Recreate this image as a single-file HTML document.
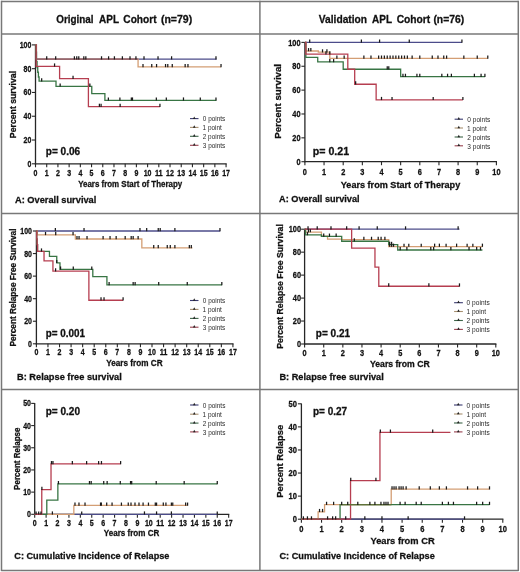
<!DOCTYPE html><html><head><meta charset="utf-8"><style>html,body{margin:0;padding:0;background:#fff;}svg{display:block;filter:blur(0.3px);font-family:"Liberation Sans",sans-serif;}</style></head><body>
<svg width="520" height="572" viewBox="0 0 520 572">
<rect width="520" height="572" fill="#fff"/>
<line x1="1.2" y1="1.5" x2="518.6" y2="1.5" stroke="#787878" stroke-width="1.5"/>
<line x1="1.2" y1="570.4" x2="518.6" y2="570.4" stroke="#787878" stroke-width="1.5"/>
<line x1="1.5" y1="0.8" x2="1.5" y2="571.1" stroke="#787878" stroke-width="1.5"/>
<line x1="518.3" y1="0.8" x2="518.3" y2="571.1" stroke="#787878" stroke-width="1.5"/>
<line x1="259.9" y1="0.8" x2="259.9" y2="571.1" stroke="#787878" stroke-width="1.5"/>
<line x1="1.2" y1="34" x2="518.6" y2="34" stroke="#787878" stroke-width="1.5"/>
<line x1="1.2" y1="213.6" x2="518.6" y2="213.6" stroke="#787878" stroke-width="1.5"/>
<line x1="1.2" y1="389.6" x2="518.6" y2="389.6" stroke="#787878" stroke-width="1.5"/>
<text x="56.24" y="22.93" font-size="10.8" font-weight="bold" fill="#111" textLength="37.34" lengthAdjust="spacingAndGlyphs" stroke="#111" stroke-width="0.28">Original</text>
<text x="99.09" y="22.93" font-size="10.8" font-weight="bold" fill="#111" textLength="19.97" lengthAdjust="spacingAndGlyphs" stroke="#111" stroke-width="0.28">APL</text>
<text x="123.33" y="22.93" font-size="10.8" font-weight="bold" fill="#111" textLength="33.25" lengthAdjust="spacingAndGlyphs" stroke="#111" stroke-width="0.28">Cohort</text>
<text x="160.91" y="22.93" font-size="10.8" font-weight="bold" fill="#111" textLength="31.25" lengthAdjust="spacingAndGlyphs" stroke="#111" stroke-width="0.28">(n=79)</text>
<text x="318.84" y="22.93" font-size="10.8" font-weight="bold" fill="#111" textLength="48.17" lengthAdjust="spacingAndGlyphs" stroke="#111" stroke-width="0.28">Validation</text>
<text x="372.09" y="22.93" font-size="10.8" font-weight="bold" fill="#111" textLength="19.97" lengthAdjust="spacingAndGlyphs" stroke="#111" stroke-width="0.28">APL</text>
<text x="396.63" y="22.93" font-size="10.8" font-weight="bold" fill="#111" textLength="33.65" lengthAdjust="spacingAndGlyphs" stroke="#111" stroke-width="0.28">Cohort</text>
<text x="433.42" y="22.93" font-size="10.8" font-weight="bold" fill="#111" textLength="30.74" lengthAdjust="spacingAndGlyphs" stroke="#111" stroke-width="0.28">(n=76)</text>
<line x1="35.5" y1="44.6" x2="35.5" y2="164.4" stroke="#262626" stroke-width="1.3"/>
<line x1="34.9" y1="163.8" x2="226.67" y2="163.8" stroke="#262626" stroke-width="1.3"/>
<line x1="32" y1="163.8" x2="35.5" y2="163.8" stroke="#262626" stroke-width="1.1"/>
<line x1="32" y1="140.02" x2="35.5" y2="140.02" stroke="#262626" stroke-width="1.1"/>
<line x1="32" y1="116.24" x2="35.5" y2="116.24" stroke="#262626" stroke-width="1.1"/>
<line x1="32" y1="92.46" x2="35.5" y2="92.46" stroke="#262626" stroke-width="1.1"/>
<line x1="32" y1="68.68" x2="35.5" y2="68.68" stroke="#262626" stroke-width="1.1"/>
<line x1="32" y1="44.9" x2="35.5" y2="44.9" stroke="#262626" stroke-width="1.1"/>
<line x1="35.5" y1="163.8" x2="35.5" y2="167.3" stroke="#262626" stroke-width="1.1"/>
<line x1="46.71" y1="163.8" x2="46.71" y2="167.3" stroke="#262626" stroke-width="1.1"/>
<line x1="57.92" y1="163.8" x2="57.92" y2="167.3" stroke="#262626" stroke-width="1.1"/>
<line x1="69.13" y1="163.8" x2="69.13" y2="167.3" stroke="#262626" stroke-width="1.1"/>
<line x1="80.34" y1="163.8" x2="80.34" y2="167.3" stroke="#262626" stroke-width="1.1"/>
<line x1="91.55" y1="163.8" x2="91.55" y2="167.3" stroke="#262626" stroke-width="1.1"/>
<line x1="102.76" y1="163.8" x2="102.76" y2="167.3" stroke="#262626" stroke-width="1.1"/>
<line x1="113.97" y1="163.8" x2="113.97" y2="167.3" stroke="#262626" stroke-width="1.1"/>
<line x1="125.18" y1="163.8" x2="125.18" y2="167.3" stroke="#262626" stroke-width="1.1"/>
<line x1="136.39" y1="163.8" x2="136.39" y2="167.3" stroke="#262626" stroke-width="1.1"/>
<line x1="147.6" y1="163.8" x2="147.6" y2="167.3" stroke="#262626" stroke-width="1.1"/>
<line x1="158.81" y1="163.8" x2="158.81" y2="167.3" stroke="#262626" stroke-width="1.1"/>
<line x1="170.02" y1="163.8" x2="170.02" y2="167.3" stroke="#262626" stroke-width="1.1"/>
<line x1="181.23" y1="163.8" x2="181.23" y2="167.3" stroke="#262626" stroke-width="1.1"/>
<line x1="192.44" y1="163.8" x2="192.44" y2="167.3" stroke="#262626" stroke-width="1.1"/>
<line x1="203.65" y1="163.8" x2="203.65" y2="167.3" stroke="#262626" stroke-width="1.1"/>
<line x1="214.86" y1="163.8" x2="214.86" y2="167.3" stroke="#262626" stroke-width="1.1"/>
<line x1="226.07" y1="163.8" x2="226.07" y2="167.3" stroke="#262626" stroke-width="1.1"/>
<path d="M35.5 44.9H36.4V59.17H216.54" fill="none" stroke="#4c4c8a" stroke-width="1.3"/>
<path d="M35.5 44.9H36.4V59.17H138.07V66.9H221.03" fill="none" stroke="#d49e74" stroke-width="1.3"/>
<path d="M35.5 44.9H35.95V52.03H36.51V61.55H37.07V67.49H37.74V72.25H38.41V77H39.09V81.16H56.01V86.28H91.77V93.65H104.89V100.31H216.43" fill="none" stroke="#387544" stroke-width="1.3"/>
<path d="M35.5 44.9H36.17V66.3H59.6V78.67H88.41V106.61H159.93" fill="none" stroke="#b63e50" stroke-width="1.3"/>
<path d="M36.4 59.17H138.07" fill="none" stroke="#8c5a68" stroke-width="1.3"/>
<line x1="46.71" y1="56.27" x2="46.71" y2="59.47" stroke="#1a1a1a" stroke-width="1.25"/>
<line x1="55.68" y1="56.27" x2="55.68" y2="59.47" stroke="#1a1a1a" stroke-width="1.25"/>
<line x1="74.4" y1="56.27" x2="74.4" y2="59.47" stroke="#1a1a1a" stroke-width="1.25"/>
<line x1="76.75" y1="56.27" x2="76.75" y2="59.47" stroke="#1a1a1a" stroke-width="1.25"/>
<line x1="78.77" y1="56.27" x2="78.77" y2="59.47" stroke="#1a1a1a" stroke-width="1.25"/>
<line x1="83.82" y1="56.27" x2="83.82" y2="59.47" stroke="#1a1a1a" stroke-width="1.25"/>
<line x1="85.83" y1="56.27" x2="85.83" y2="59.47" stroke="#1a1a1a" stroke-width="1.25"/>
<line x1="101.53" y1="56.27" x2="101.53" y2="59.47" stroke="#1a1a1a" stroke-width="1.25"/>
<line x1="108.59" y1="56.27" x2="108.59" y2="59.47" stroke="#1a1a1a" stroke-width="1.25"/>
<line x1="114.42" y1="56.27" x2="114.42" y2="59.47" stroke="#1a1a1a" stroke-width="1.25"/>
<line x1="122.38" y1="56.27" x2="122.38" y2="59.47" stroke="#1a1a1a" stroke-width="1.25"/>
<line x1="130" y1="56.27" x2="130" y2="59.47" stroke="#1a1a1a" stroke-width="1.25"/>
<line x1="135.94" y1="56.27" x2="135.94" y2="59.47" stroke="#1a1a1a" stroke-width="1.25"/>
<line x1="144.01" y1="56.27" x2="144.01" y2="59.47" stroke="#1a1a1a" stroke-width="1.25"/>
<line x1="158.03" y1="56.27" x2="158.03" y2="59.47" stroke="#1a1a1a" stroke-width="1.25"/>
<line x1="171.59" y1="56.27" x2="171.59" y2="59.47" stroke="#1a1a1a" stroke-width="1.25"/>
<line x1="215.98" y1="56.27" x2="215.98" y2="59.47" stroke="#1a1a1a" stroke-width="1.25"/>
<line x1="143" y1="64" x2="143" y2="67.2" stroke="#1a1a1a" stroke-width="1.25"/>
<line x1="151.75" y1="64" x2="151.75" y2="67.2" stroke="#1a1a1a" stroke-width="1.25"/>
<line x1="156.57" y1="64" x2="156.57" y2="67.2" stroke="#1a1a1a" stroke-width="1.25"/>
<line x1="165.54" y1="64" x2="165.54" y2="67.2" stroke="#1a1a1a" stroke-width="1.25"/>
<line x1="167.78" y1="64" x2="167.78" y2="67.2" stroke="#1a1a1a" stroke-width="1.25"/>
<line x1="172.26" y1="64" x2="172.26" y2="67.2" stroke="#1a1a1a" stroke-width="1.25"/>
<line x1="185.15" y1="64" x2="185.15" y2="67.2" stroke="#1a1a1a" stroke-width="1.25"/>
<line x1="187.96" y1="64" x2="187.96" y2="67.2" stroke="#1a1a1a" stroke-width="1.25"/>
<line x1="221.03" y1="64" x2="221.03" y2="67.2" stroke="#1a1a1a" stroke-width="1.25"/>
<line x1="41.67" y1="78.26" x2="41.67" y2="81.46" stroke="#1a1a1a" stroke-width="1.25"/>
<line x1="60.16" y1="83.38" x2="60.16" y2="86.58" stroke="#1a1a1a" stroke-width="1.25"/>
<line x1="89.87" y1="83.38" x2="89.87" y2="86.58" stroke="#1a1a1a" stroke-width="1.25"/>
<line x1="108.37" y1="97.41" x2="108.37" y2="100.61" stroke="#1a1a1a" stroke-width="1.25"/>
<line x1="119.91" y1="97.41" x2="119.91" y2="100.61" stroke="#1a1a1a" stroke-width="1.25"/>
<line x1="131.35" y1="97.41" x2="131.35" y2="100.61" stroke="#1a1a1a" stroke-width="1.25"/>
<line x1="132.47" y1="97.41" x2="132.47" y2="100.61" stroke="#1a1a1a" stroke-width="1.25"/>
<line x1="156.34" y1="97.41" x2="156.34" y2="100.61" stroke="#1a1a1a" stroke-width="1.25"/>
<line x1="166.32" y1="97.41" x2="166.32" y2="100.61" stroke="#1a1a1a" stroke-width="1.25"/>
<line x1="183.47" y1="97.41" x2="183.47" y2="100.61" stroke="#1a1a1a" stroke-width="1.25"/>
<line x1="200.29" y1="97.41" x2="200.29" y2="100.61" stroke="#1a1a1a" stroke-width="1.25"/>
<line x1="215.98" y1="97.41" x2="215.98" y2="100.61" stroke="#1a1a1a" stroke-width="1.25"/>
<line x1="54.56" y1="63.4" x2="54.56" y2="66.6" stroke="#1a1a1a" stroke-width="1.25"/>
<line x1="73.05" y1="75.77" x2="73.05" y2="78.97" stroke="#1a1a1a" stroke-width="1.25"/>
<line x1="99.4" y1="103.71" x2="99.4" y2="106.91" stroke="#1a1a1a" stroke-width="1.25"/>
<line x1="101.08" y1="103.71" x2="101.08" y2="106.91" stroke="#1a1a1a" stroke-width="1.25"/>
<line x1="120.14" y1="103.71" x2="120.14" y2="106.91" stroke="#1a1a1a" stroke-width="1.25"/>
<line x1="159.93" y1="103.71" x2="159.93" y2="106.91" stroke="#1a1a1a" stroke-width="1.25"/>
<text x="31.4" y="166.81" font-size="8.6" font-weight="bold" text-anchor="end" fill="#111" textLength="3.9" lengthAdjust="spacingAndGlyphs" stroke="#111" stroke-width="0.28">0</text>
<text x="31.4" y="143.03" font-size="8.6" font-weight="bold" text-anchor="end" fill="#111" textLength="7.8" lengthAdjust="spacingAndGlyphs" stroke="#111" stroke-width="0.28">20</text>
<text x="31.4" y="119.25" font-size="8.6" font-weight="bold" text-anchor="end" fill="#111" textLength="7.8" lengthAdjust="spacingAndGlyphs" stroke="#111" stroke-width="0.28">40</text>
<text x="31.4" y="95.47" font-size="8.6" font-weight="bold" text-anchor="end" fill="#111" textLength="7.8" lengthAdjust="spacingAndGlyphs" stroke="#111" stroke-width="0.28">60</text>
<text x="31.4" y="71.69" font-size="8.6" font-weight="bold" text-anchor="end" fill="#111" textLength="7.8" lengthAdjust="spacingAndGlyphs" stroke="#111" stroke-width="0.28">80</text>
<text x="31.4" y="47.91" font-size="8.6" font-weight="bold" text-anchor="end" fill="#111" textLength="11.7" lengthAdjust="spacingAndGlyphs" stroke="#111" stroke-width="0.28">100</text>
<text x="35.5" y="176.01" font-size="8.6" font-weight="bold" text-anchor="middle" fill="#111" textLength="3.9" lengthAdjust="spacingAndGlyphs" stroke="#111" stroke-width="0.28">0</text>
<text x="46.71" y="176.01" font-size="8.6" font-weight="bold" text-anchor="middle" fill="#111" textLength="3.9" lengthAdjust="spacingAndGlyphs" stroke="#111" stroke-width="0.28">1</text>
<text x="57.92" y="176.01" font-size="8.6" font-weight="bold" text-anchor="middle" fill="#111" textLength="3.9" lengthAdjust="spacingAndGlyphs" stroke="#111" stroke-width="0.28">2</text>
<text x="69.13" y="176.01" font-size="8.6" font-weight="bold" text-anchor="middle" fill="#111" textLength="3.9" lengthAdjust="spacingAndGlyphs" stroke="#111" stroke-width="0.28">3</text>
<text x="80.34" y="176.01" font-size="8.6" font-weight="bold" text-anchor="middle" fill="#111" textLength="3.9" lengthAdjust="spacingAndGlyphs" stroke="#111" stroke-width="0.28">4</text>
<text x="91.55" y="176.01" font-size="8.6" font-weight="bold" text-anchor="middle" fill="#111" textLength="3.9" lengthAdjust="spacingAndGlyphs" stroke="#111" stroke-width="0.28">5</text>
<text x="102.76" y="176.01" font-size="8.6" font-weight="bold" text-anchor="middle" fill="#111" textLength="3.9" lengthAdjust="spacingAndGlyphs" stroke="#111" stroke-width="0.28">6</text>
<text x="113.97" y="176.01" font-size="8.6" font-weight="bold" text-anchor="middle" fill="#111" textLength="3.9" lengthAdjust="spacingAndGlyphs" stroke="#111" stroke-width="0.28">7</text>
<text x="125.18" y="176.01" font-size="8.6" font-weight="bold" text-anchor="middle" fill="#111" textLength="3.9" lengthAdjust="spacingAndGlyphs" stroke="#111" stroke-width="0.28">8</text>
<text x="136.39" y="176.01" font-size="8.6" font-weight="bold" text-anchor="middle" fill="#111" textLength="3.9" lengthAdjust="spacingAndGlyphs" stroke="#111" stroke-width="0.28">9</text>
<text x="147.6" y="176.01" font-size="8.6" font-weight="bold" text-anchor="middle" fill="#111" textLength="7.8" lengthAdjust="spacingAndGlyphs" stroke="#111" stroke-width="0.28">10</text>
<text x="158.81" y="176.01" font-size="8.6" font-weight="bold" text-anchor="middle" fill="#111" textLength="7.8" lengthAdjust="spacingAndGlyphs" stroke="#111" stroke-width="0.28">11</text>
<text x="170.02" y="176.01" font-size="8.6" font-weight="bold" text-anchor="middle" fill="#111" textLength="7.8" lengthAdjust="spacingAndGlyphs" stroke="#111" stroke-width="0.28">12</text>
<text x="181.23" y="176.01" font-size="8.6" font-weight="bold" text-anchor="middle" fill="#111" textLength="7.8" lengthAdjust="spacingAndGlyphs" stroke="#111" stroke-width="0.28">13</text>
<text x="192.44" y="176.01" font-size="8.6" font-weight="bold" text-anchor="middle" fill="#111" textLength="7.8" lengthAdjust="spacingAndGlyphs" stroke="#111" stroke-width="0.28">14</text>
<text x="203.65" y="176.01" font-size="8.6" font-weight="bold" text-anchor="middle" fill="#111" textLength="7.8" lengthAdjust="spacingAndGlyphs" stroke="#111" stroke-width="0.28">15</text>
<text x="214.86" y="176.01" font-size="8.6" font-weight="bold" text-anchor="middle" fill="#111" textLength="7.8" lengthAdjust="spacingAndGlyphs" stroke="#111" stroke-width="0.28">16</text>
<text x="226.07" y="176.01" font-size="8.6" font-weight="bold" text-anchor="middle" fill="#111" textLength="7.8" lengthAdjust="spacingAndGlyphs" stroke="#111" stroke-width="0.28">17</text>
<text x="78.18" y="187.45" font-size="9" font-weight="bold" fill="#111" textLength="104.02" lengthAdjust="spacingAndGlyphs" stroke="#111" stroke-width="0.28">Years from Start of Therapy</text>
<text transform="translate(15.5,138.13) rotate(-90)" x="0" y="0" font-size="9" font-weight="bold" fill="#111" textLength="67.21" lengthAdjust="spacingAndGlyphs" stroke="#111" stroke-width="0.28">Percent survival</text>
<text x="15.01" y="202.7" font-size="9.7" font-weight="bold" fill="#111" textLength="81.32" lengthAdjust="spacingAndGlyphs" stroke="#111" stroke-width="0.28">A: Overall survival</text>
<text x="45.79" y="155.3" font-size="10" font-weight="bold" fill="#111" textLength="34.42" lengthAdjust="spacingAndGlyphs" stroke="#111" stroke-width="0.28">p= 0.06</text>
<line x1="190" y1="118.6" x2="198.5" y2="118.6" stroke="#3a3a70" stroke-width="1.1"/>
<path d="M192.95 118.9L194.25 116.4L195.55 118.9Z" fill="#222"/>
<text x="202.84" y="121.44" font-size="6.4" font-weight="normal" fill="#2a2a2a" textLength="22.47" lengthAdjust="spacingAndGlyphs">0 points</text>
<line x1="190" y1="127.4" x2="198.5" y2="127.4" stroke="#a89070" stroke-width="1.1"/>
<path d="M192.95 127.7L194.25 125.2L195.55 127.7Z" fill="#222"/>
<text x="202.62" y="130.14" font-size="6.4" font-weight="normal" fill="#2a2a2a" textLength="19.26" lengthAdjust="spacingAndGlyphs">1 point</text>
<line x1="190" y1="136.3" x2="198.5" y2="136.3" stroke="#3d6548" stroke-width="1.1"/>
<path d="M192.95 136.6L194.25 134.1L195.55 136.6Z" fill="#222"/>
<text x="202.78" y="138.94" font-size="6.4" font-weight="normal" fill="#2a2a2a" textLength="22.47" lengthAdjust="spacingAndGlyphs">2 points</text>
<line x1="190" y1="145.3" x2="198.5" y2="145.3" stroke="#98404e" stroke-width="1.1"/>
<path d="M192.95 145.6L194.25 143.1L195.55 145.6Z" fill="#222"/>
<text x="202.84" y="147.84" font-size="6.4" font-weight="normal" fill="#2a2a2a" textLength="22.47" lengthAdjust="spacingAndGlyphs">3 points</text>
<line x1="304.9" y1="42.1" x2="304.9" y2="162.3" stroke="#262626" stroke-width="1.3"/>
<line x1="304.3" y1="161.7" x2="497" y2="161.7" stroke="#262626" stroke-width="1.3"/>
<line x1="301.4" y1="161.7" x2="304.9" y2="161.7" stroke="#262626" stroke-width="1.1"/>
<line x1="301.4" y1="137.84" x2="304.9" y2="137.84" stroke="#262626" stroke-width="1.1"/>
<line x1="301.4" y1="113.98" x2="304.9" y2="113.98" stroke="#262626" stroke-width="1.1"/>
<line x1="301.4" y1="90.12" x2="304.9" y2="90.12" stroke="#262626" stroke-width="1.1"/>
<line x1="301.4" y1="66.26" x2="304.9" y2="66.26" stroke="#262626" stroke-width="1.1"/>
<line x1="301.4" y1="42.4" x2="304.9" y2="42.4" stroke="#262626" stroke-width="1.1"/>
<line x1="304.9" y1="161.7" x2="304.9" y2="165.2" stroke="#262626" stroke-width="1.1"/>
<line x1="324.05" y1="161.7" x2="324.05" y2="165.2" stroke="#262626" stroke-width="1.1"/>
<line x1="343.2" y1="161.7" x2="343.2" y2="165.2" stroke="#262626" stroke-width="1.1"/>
<line x1="362.35" y1="161.7" x2="362.35" y2="165.2" stroke="#262626" stroke-width="1.1"/>
<line x1="381.5" y1="161.7" x2="381.5" y2="165.2" stroke="#262626" stroke-width="1.1"/>
<line x1="400.65" y1="161.7" x2="400.65" y2="165.2" stroke="#262626" stroke-width="1.1"/>
<line x1="419.8" y1="161.7" x2="419.8" y2="165.2" stroke="#262626" stroke-width="1.1"/>
<line x1="438.95" y1="161.7" x2="438.95" y2="165.2" stroke="#262626" stroke-width="1.1"/>
<line x1="458.1" y1="161.7" x2="458.1" y2="165.2" stroke="#262626" stroke-width="1.1"/>
<line x1="477.25" y1="161.7" x2="477.25" y2="165.2" stroke="#262626" stroke-width="1.1"/>
<line x1="496.4" y1="161.7" x2="496.4" y2="165.2" stroke="#262626" stroke-width="1.1"/>
<path d="M304.9 42.4H461.93" fill="none" stroke="#4c4c8a" stroke-width="1.3"/>
<path d="M304.9 42.4H305.86V50.99H318.3V52.18H329.79V58.39H487.78" fill="none" stroke="#d49e74" stroke-width="1.3"/>
<path d="M304.9 42.4H305.86V57.31H317.73V61.97H343.2V69.24H400.65V76.64H484.91" fill="none" stroke="#387544" stroke-width="1.3"/>
<path d="M304.9 42.4H305.86V54.09H347.8V69.24H354.69V84.27H376.14V99.78H462.89" fill="none" stroke="#b63e50" stroke-width="1.3"/>
<line x1="309.69" y1="39.5" x2="309.69" y2="42.7" stroke="#1a1a1a" stroke-width="1.25"/>
<line x1="361.39" y1="39.5" x2="361.39" y2="42.7" stroke="#1a1a1a" stroke-width="1.25"/>
<line x1="379.58" y1="39.5" x2="379.58" y2="42.7" stroke="#1a1a1a" stroke-width="1.25"/>
<line x1="409.27" y1="39.5" x2="409.27" y2="42.7" stroke="#1a1a1a" stroke-width="1.25"/>
<line x1="461.93" y1="39.5" x2="461.93" y2="42.7" stroke="#1a1a1a" stroke-width="1.25"/>
<line x1="308.54" y1="48.09" x2="308.54" y2="51.29" stroke="#1a1a1a" stroke-width="1.25"/>
<line x1="310.84" y1="48.09" x2="310.84" y2="51.29" stroke="#1a1a1a" stroke-width="1.25"/>
<line x1="322.52" y1="49.28" x2="322.52" y2="52.48" stroke="#1a1a1a" stroke-width="1.25"/>
<line x1="326.92" y1="49.28" x2="326.92" y2="52.48" stroke="#1a1a1a" stroke-width="1.25"/>
<line x1="336.88" y1="55.49" x2="336.88" y2="58.69" stroke="#1a1a1a" stroke-width="1.25"/>
<line x1="344.16" y1="55.49" x2="344.16" y2="58.69" stroke="#1a1a1a" stroke-width="1.25"/>
<line x1="363.88" y1="55.49" x2="363.88" y2="58.69" stroke="#1a1a1a" stroke-width="1.25"/>
<line x1="370.97" y1="55.49" x2="370.97" y2="58.69" stroke="#1a1a1a" stroke-width="1.25"/>
<line x1="378.63" y1="55.49" x2="378.63" y2="58.69" stroke="#1a1a1a" stroke-width="1.25"/>
<line x1="381.5" y1="55.49" x2="381.5" y2="58.69" stroke="#1a1a1a" stroke-width="1.25"/>
<line x1="384.37" y1="55.49" x2="384.37" y2="58.69" stroke="#1a1a1a" stroke-width="1.25"/>
<line x1="387.24" y1="55.49" x2="387.24" y2="58.69" stroke="#1a1a1a" stroke-width="1.25"/>
<line x1="390.12" y1="55.49" x2="390.12" y2="58.69" stroke="#1a1a1a" stroke-width="1.25"/>
<line x1="392.99" y1="55.49" x2="392.99" y2="58.69" stroke="#1a1a1a" stroke-width="1.25"/>
<line x1="395.86" y1="55.49" x2="395.86" y2="58.69" stroke="#1a1a1a" stroke-width="1.25"/>
<line x1="398.73" y1="55.49" x2="398.73" y2="58.69" stroke="#1a1a1a" stroke-width="1.25"/>
<line x1="401.61" y1="55.49" x2="401.61" y2="58.69" stroke="#1a1a1a" stroke-width="1.25"/>
<line x1="404.48" y1="55.49" x2="404.48" y2="58.69" stroke="#1a1a1a" stroke-width="1.25"/>
<line x1="407.35" y1="55.49" x2="407.35" y2="58.69" stroke="#1a1a1a" stroke-width="1.25"/>
<line x1="412.14" y1="55.49" x2="412.14" y2="58.69" stroke="#1a1a1a" stroke-width="1.25"/>
<line x1="419.8" y1="55.49" x2="419.8" y2="58.69" stroke="#1a1a1a" stroke-width="1.25"/>
<line x1="432.25" y1="55.49" x2="432.25" y2="58.69" stroke="#1a1a1a" stroke-width="1.25"/>
<line x1="437.99" y1="55.49" x2="437.99" y2="58.69" stroke="#1a1a1a" stroke-width="1.25"/>
<line x1="443.74" y1="55.49" x2="443.74" y2="58.69" stroke="#1a1a1a" stroke-width="1.25"/>
<line x1="446.61" y1="55.49" x2="446.61" y2="58.69" stroke="#1a1a1a" stroke-width="1.25"/>
<line x1="463.84" y1="55.49" x2="463.84" y2="58.69" stroke="#1a1a1a" stroke-width="1.25"/>
<line x1="477.25" y1="55.49" x2="477.25" y2="58.69" stroke="#1a1a1a" stroke-width="1.25"/>
<line x1="487.78" y1="55.49" x2="487.78" y2="58.69" stroke="#1a1a1a" stroke-width="1.25"/>
<line x1="329.79" y1="59.07" x2="329.79" y2="62.27" stroke="#1a1a1a" stroke-width="1.25"/>
<line x1="333.62" y1="59.07" x2="333.62" y2="62.27" stroke="#1a1a1a" stroke-width="1.25"/>
<line x1="387.24" y1="66.34" x2="387.24" y2="69.54" stroke="#1a1a1a" stroke-width="1.25"/>
<line x1="388.78" y1="66.34" x2="388.78" y2="69.54" stroke="#1a1a1a" stroke-width="1.25"/>
<line x1="402.95" y1="73.74" x2="402.95" y2="76.94" stroke="#1a1a1a" stroke-width="1.25"/>
<line x1="405.44" y1="73.74" x2="405.44" y2="76.94" stroke="#1a1a1a" stroke-width="1.25"/>
<line x1="416.93" y1="73.74" x2="416.93" y2="76.94" stroke="#1a1a1a" stroke-width="1.25"/>
<line x1="419.8" y1="73.74" x2="419.8" y2="76.94" stroke="#1a1a1a" stroke-width="1.25"/>
<line x1="441.82" y1="73.74" x2="441.82" y2="76.94" stroke="#1a1a1a" stroke-width="1.25"/>
<line x1="447.57" y1="73.74" x2="447.57" y2="76.94" stroke="#1a1a1a" stroke-width="1.25"/>
<line x1="451.4" y1="73.74" x2="451.4" y2="76.94" stroke="#1a1a1a" stroke-width="1.25"/>
<line x1="474.38" y1="73.74" x2="474.38" y2="76.94" stroke="#1a1a1a" stroke-width="1.25"/>
<line x1="481.08" y1="73.74" x2="481.08" y2="76.94" stroke="#1a1a1a" stroke-width="1.25"/>
<line x1="484.91" y1="73.74" x2="484.91" y2="76.94" stroke="#1a1a1a" stroke-width="1.25"/>
<line x1="325.96" y1="51.19" x2="325.96" y2="54.39" stroke="#1a1a1a" stroke-width="1.25"/>
<line x1="329.79" y1="51.19" x2="329.79" y2="54.39" stroke="#1a1a1a" stroke-width="1.25"/>
<line x1="355.65" y1="81.37" x2="355.65" y2="84.57" stroke="#1a1a1a" stroke-width="1.25"/>
<line x1="381.5" y1="96.88" x2="381.5" y2="100.08" stroke="#1a1a1a" stroke-width="1.25"/>
<line x1="392.03" y1="96.88" x2="392.03" y2="100.08" stroke="#1a1a1a" stroke-width="1.25"/>
<line x1="433.2" y1="96.88" x2="433.2" y2="100.08" stroke="#1a1a1a" stroke-width="1.25"/>
<line x1="462.89" y1="96.88" x2="462.89" y2="100.08" stroke="#1a1a1a" stroke-width="1.25"/>
<text x="300.5" y="164.85" font-size="9" font-weight="bold" text-anchor="end" fill="#111" textLength="4.1" lengthAdjust="spacingAndGlyphs" stroke="#111" stroke-width="0.28">0</text>
<text x="300.5" y="140.99" font-size="9" font-weight="bold" text-anchor="end" fill="#111" textLength="8.2" lengthAdjust="spacingAndGlyphs" stroke="#111" stroke-width="0.28">20</text>
<text x="300.5" y="117.13" font-size="9" font-weight="bold" text-anchor="end" fill="#111" textLength="8.2" lengthAdjust="spacingAndGlyphs" stroke="#111" stroke-width="0.28">40</text>
<text x="300.5" y="93.27" font-size="9" font-weight="bold" text-anchor="end" fill="#111" textLength="8.2" lengthAdjust="spacingAndGlyphs" stroke="#111" stroke-width="0.28">60</text>
<text x="300.5" y="69.41" font-size="9" font-weight="bold" text-anchor="end" fill="#111" textLength="8.2" lengthAdjust="spacingAndGlyphs" stroke="#111" stroke-width="0.28">80</text>
<text x="300.5" y="45.55" font-size="9" font-weight="bold" text-anchor="end" fill="#111" textLength="12.3" lengthAdjust="spacingAndGlyphs" stroke="#111" stroke-width="0.28">100</text>
<text x="304.9" y="174.75" font-size="9" font-weight="bold" text-anchor="middle" fill="#111" textLength="4.1" lengthAdjust="spacingAndGlyphs" stroke="#111" stroke-width="0.28">0</text>
<text x="324.05" y="174.75" font-size="9" font-weight="bold" text-anchor="middle" fill="#111" textLength="4.1" lengthAdjust="spacingAndGlyphs" stroke="#111" stroke-width="0.28">1</text>
<text x="343.2" y="174.75" font-size="9" font-weight="bold" text-anchor="middle" fill="#111" textLength="4.1" lengthAdjust="spacingAndGlyphs" stroke="#111" stroke-width="0.28">2</text>
<text x="362.35" y="174.75" font-size="9" font-weight="bold" text-anchor="middle" fill="#111" textLength="4.1" lengthAdjust="spacingAndGlyphs" stroke="#111" stroke-width="0.28">3</text>
<text x="381.5" y="174.75" font-size="9" font-weight="bold" text-anchor="middle" fill="#111" textLength="4.1" lengthAdjust="spacingAndGlyphs" stroke="#111" stroke-width="0.28">4</text>
<text x="400.65" y="174.75" font-size="9" font-weight="bold" text-anchor="middle" fill="#111" textLength="4.1" lengthAdjust="spacingAndGlyphs" stroke="#111" stroke-width="0.28">5</text>
<text x="419.8" y="174.75" font-size="9" font-weight="bold" text-anchor="middle" fill="#111" textLength="4.1" lengthAdjust="spacingAndGlyphs" stroke="#111" stroke-width="0.28">6</text>
<text x="438.95" y="174.75" font-size="9" font-weight="bold" text-anchor="middle" fill="#111" textLength="4.1" lengthAdjust="spacingAndGlyphs" stroke="#111" stroke-width="0.28">7</text>
<text x="458.1" y="174.75" font-size="9" font-weight="bold" text-anchor="middle" fill="#111" textLength="4.1" lengthAdjust="spacingAndGlyphs" stroke="#111" stroke-width="0.28">8</text>
<text x="477.25" y="174.75" font-size="9" font-weight="bold" text-anchor="middle" fill="#111" textLength="4.1" lengthAdjust="spacingAndGlyphs" stroke="#111" stroke-width="0.28">9</text>
<text x="496.4" y="174.75" font-size="9" font-weight="bold" text-anchor="middle" fill="#111" textLength="8.2" lengthAdjust="spacingAndGlyphs" stroke="#111" stroke-width="0.28">10</text>
<text x="340.76" y="187.82" font-size="9.2" font-weight="bold" fill="#111" textLength="119.45" lengthAdjust="spacingAndGlyphs" stroke="#111" stroke-width="0.28">Years from Start of Therapy</text>
<text transform="translate(280.8,138.79) rotate(-90)" x="0" y="0" font-size="9.6" font-weight="bold" fill="#111" textLength="74.84" lengthAdjust="spacingAndGlyphs" stroke="#111" stroke-width="0.28">Percent survival</text>
<text x="279.11" y="202" font-size="9.7" font-weight="bold" fill="#111" textLength="80.41" lengthAdjust="spacingAndGlyphs" stroke="#111" stroke-width="0.28">A: Overall survival</text>
<text x="312.75" y="154.7" font-size="10" font-weight="bold" fill="#111" textLength="36.37" lengthAdjust="spacingAndGlyphs" stroke="#111" stroke-width="0.28">p= 0.21</text>
<line x1="454.6" y1="119.2" x2="463" y2="119.2" stroke="#3a3a70" stroke-width="1.1"/>
<path d="M457.5 119.5L458.8 117L460.1 119.5Z" fill="#222"/>
<text x="467.34" y="121.98" font-size="6.5" font-weight="normal" fill="#2a2a2a" textLength="22.98" lengthAdjust="spacingAndGlyphs">0 points</text>
<line x1="454.6" y1="128" x2="463" y2="128" stroke="#a89070" stroke-width="1.1"/>
<path d="M457.5 128.3L458.8 125.8L460.1 128.3Z" fill="#222"/>
<text x="467.11" y="130.78" font-size="6.5" font-weight="normal" fill="#2a2a2a" textLength="19.7" lengthAdjust="spacingAndGlyphs">1 point</text>
<line x1="454.6" y1="137" x2="463" y2="137" stroke="#3d6548" stroke-width="1.1"/>
<path d="M457.5 137.3L458.8 134.8L460.1 137.3Z" fill="#222"/>
<text x="467.27" y="139.78" font-size="6.5" font-weight="normal" fill="#2a2a2a" textLength="22.98" lengthAdjust="spacingAndGlyphs">2 points</text>
<line x1="454.6" y1="145.8" x2="463" y2="145.8" stroke="#98404e" stroke-width="1.1"/>
<path d="M457.5 146.1L458.8 143.6L460.1 146.1Z" fill="#222"/>
<text x="467.34" y="148.58" font-size="6.5" font-weight="normal" fill="#2a2a2a" textLength="22.98" lengthAdjust="spacingAndGlyphs">3 points</text>
<line x1="36.4" y1="230.7" x2="36.4" y2="344.4" stroke="#262626" stroke-width="1.3"/>
<line x1="35.8" y1="343.8" x2="233.52" y2="343.8" stroke="#262626" stroke-width="1.3"/>
<line x1="32.9" y1="343.8" x2="36.4" y2="343.8" stroke="#262626" stroke-width="1.1"/>
<line x1="32.9" y1="321.24" x2="36.4" y2="321.24" stroke="#262626" stroke-width="1.1"/>
<line x1="32.9" y1="298.68" x2="36.4" y2="298.68" stroke="#262626" stroke-width="1.1"/>
<line x1="32.9" y1="276.12" x2="36.4" y2="276.12" stroke="#262626" stroke-width="1.1"/>
<line x1="32.9" y1="253.56" x2="36.4" y2="253.56" stroke="#262626" stroke-width="1.1"/>
<line x1="32.9" y1="231" x2="36.4" y2="231" stroke="#262626" stroke-width="1.1"/>
<line x1="36.4" y1="343.8" x2="36.4" y2="347.3" stroke="#262626" stroke-width="1.1"/>
<line x1="47.96" y1="343.8" x2="47.96" y2="347.3" stroke="#262626" stroke-width="1.1"/>
<line x1="59.52" y1="343.8" x2="59.52" y2="347.3" stroke="#262626" stroke-width="1.1"/>
<line x1="71.08" y1="343.8" x2="71.08" y2="347.3" stroke="#262626" stroke-width="1.1"/>
<line x1="82.64" y1="343.8" x2="82.64" y2="347.3" stroke="#262626" stroke-width="1.1"/>
<line x1="94.2" y1="343.8" x2="94.2" y2="347.3" stroke="#262626" stroke-width="1.1"/>
<line x1="105.76" y1="343.8" x2="105.76" y2="347.3" stroke="#262626" stroke-width="1.1"/>
<line x1="117.32" y1="343.8" x2="117.32" y2="347.3" stroke="#262626" stroke-width="1.1"/>
<line x1="128.88" y1="343.8" x2="128.88" y2="347.3" stroke="#262626" stroke-width="1.1"/>
<line x1="140.44" y1="343.8" x2="140.44" y2="347.3" stroke="#262626" stroke-width="1.1"/>
<line x1="152" y1="343.8" x2="152" y2="347.3" stroke="#262626" stroke-width="1.1"/>
<line x1="163.56" y1="343.8" x2="163.56" y2="347.3" stroke="#262626" stroke-width="1.1"/>
<line x1="175.12" y1="343.8" x2="175.12" y2="347.3" stroke="#262626" stroke-width="1.1"/>
<line x1="186.68" y1="343.8" x2="186.68" y2="347.3" stroke="#262626" stroke-width="1.1"/>
<line x1="198.24" y1="343.8" x2="198.24" y2="347.3" stroke="#262626" stroke-width="1.1"/>
<line x1="209.8" y1="343.8" x2="209.8" y2="347.3" stroke="#262626" stroke-width="1.1"/>
<line x1="221.36" y1="343.8" x2="221.36" y2="347.3" stroke="#262626" stroke-width="1.1"/>
<line x1="232.92" y1="343.8" x2="232.92" y2="347.3" stroke="#262626" stroke-width="1.1"/>
<path d="M36.4 231H220.2" fill="none" stroke="#4c4c8a" stroke-width="1.3"/>
<path d="M36.4 231H37.32V234.84H75.36V239.01H141.83V247.92H192.46" fill="none" stroke="#d49e74" stroke-width="1.3"/>
<path d="M36.4 231H36.75V238.9H37.09V244.54H37.56V251.3H49.46V256.38H56.75V262.81H59.98V269.35H92.81V276.68H106.92V284.92H221.94" fill="none" stroke="#387544" stroke-width="1.3"/>
<path d="M36.4 231H36.75V238.9H37.09V244.54H37.56V251.3H44.03V260.89H52.93V271.16H88.88V300.26H123.1" fill="none" stroke="#b63e50" stroke-width="1.3"/>
<line x1="55.36" y1="228.1" x2="55.36" y2="231.3" stroke="#1a1a1a" stroke-width="1.25"/>
<line x1="84.03" y1="228.1" x2="84.03" y2="231.3" stroke="#1a1a1a" stroke-width="1.25"/>
<line x1="139.98" y1="228.1" x2="139.98" y2="231.3" stroke="#1a1a1a" stroke-width="1.25"/>
<line x1="146.68" y1="228.1" x2="146.68" y2="231.3" stroke="#1a1a1a" stroke-width="1.25"/>
<line x1="158.24" y1="228.1" x2="158.24" y2="231.3" stroke="#1a1a1a" stroke-width="1.25"/>
<line x1="160.21" y1="228.1" x2="160.21" y2="231.3" stroke="#1a1a1a" stroke-width="1.25"/>
<line x1="174.89" y1="228.1" x2="174.89" y2="231.3" stroke="#1a1a1a" stroke-width="1.25"/>
<line x1="219.97" y1="228.1" x2="219.97" y2="231.3" stroke="#1a1a1a" stroke-width="1.25"/>
<line x1="45.53" y1="231.94" x2="45.53" y2="235.14" stroke="#1a1a1a" stroke-width="1.25"/>
<line x1="55.71" y1="231.94" x2="55.71" y2="235.14" stroke="#1a1a1a" stroke-width="1.25"/>
<line x1="73.05" y1="231.94" x2="73.05" y2="235.14" stroke="#1a1a1a" stroke-width="1.25"/>
<line x1="76.98" y1="236.11" x2="76.98" y2="239.31" stroke="#1a1a1a" stroke-width="1.25"/>
<line x1="79.06" y1="236.11" x2="79.06" y2="239.31" stroke="#1a1a1a" stroke-width="1.25"/>
<line x1="87.03" y1="236.11" x2="87.03" y2="239.31" stroke="#1a1a1a" stroke-width="1.25"/>
<line x1="103.1" y1="236.11" x2="103.1" y2="239.31" stroke="#1a1a1a" stroke-width="1.25"/>
<line x1="110.04" y1="236.11" x2="110.04" y2="239.31" stroke="#1a1a1a" stroke-width="1.25"/>
<line x1="116.16" y1="236.11" x2="116.16" y2="239.31" stroke="#1a1a1a" stroke-width="1.25"/>
<line x1="125.18" y1="236.11" x2="125.18" y2="239.31" stroke="#1a1a1a" stroke-width="1.25"/>
<line x1="131.19" y1="236.11" x2="131.19" y2="239.31" stroke="#1a1a1a" stroke-width="1.25"/>
<line x1="133.16" y1="236.11" x2="133.16" y2="239.31" stroke="#1a1a1a" stroke-width="1.25"/>
<line x1="138.13" y1="236.11" x2="138.13" y2="239.31" stroke="#1a1a1a" stroke-width="1.25"/>
<line x1="153.73" y1="245.02" x2="153.73" y2="248.22" stroke="#1a1a1a" stroke-width="1.25"/>
<line x1="158.24" y1="245.02" x2="158.24" y2="248.22" stroke="#1a1a1a" stroke-width="1.25"/>
<line x1="167.26" y1="245.02" x2="167.26" y2="248.22" stroke="#1a1a1a" stroke-width="1.25"/>
<line x1="170.26" y1="245.02" x2="170.26" y2="248.22" stroke="#1a1a1a" stroke-width="1.25"/>
<line x1="174.89" y1="245.02" x2="174.89" y2="248.22" stroke="#1a1a1a" stroke-width="1.25"/>
<line x1="189.34" y1="245.02" x2="189.34" y2="248.22" stroke="#1a1a1a" stroke-width="1.25"/>
<line x1="191.3" y1="245.02" x2="191.3" y2="248.22" stroke="#1a1a1a" stroke-width="1.25"/>
<line x1="41.49" y1="248.4" x2="41.49" y2="251.6" stroke="#1a1a1a" stroke-width="1.25"/>
<line x1="56.75" y1="259.91" x2="56.75" y2="263.11" stroke="#1a1a1a" stroke-width="1.25"/>
<line x1="60.56" y1="266.45" x2="60.56" y2="269.65" stroke="#1a1a1a" stroke-width="1.25"/>
<line x1="73.28" y1="266.45" x2="73.28" y2="269.65" stroke="#1a1a1a" stroke-width="1.25"/>
<line x1="91.77" y1="266.45" x2="91.77" y2="269.65" stroke="#1a1a1a" stroke-width="1.25"/>
<line x1="109.11" y1="282.02" x2="109.11" y2="285.22" stroke="#1a1a1a" stroke-width="1.25"/>
<line x1="133.16" y1="282.02" x2="133.16" y2="285.22" stroke="#1a1a1a" stroke-width="1.25"/>
<line x1="135.12" y1="282.02" x2="135.12" y2="285.22" stroke="#1a1a1a" stroke-width="1.25"/>
<line x1="158.7" y1="282.02" x2="158.7" y2="285.22" stroke="#1a1a1a" stroke-width="1.25"/>
<line x1="187.26" y1="282.02" x2="187.26" y2="285.22" stroke="#1a1a1a" stroke-width="1.25"/>
<line x1="221.82" y1="282.02" x2="221.82" y2="285.22" stroke="#1a1a1a" stroke-width="1.25"/>
<line x1="55.59" y1="268.26" x2="55.59" y2="271.46" stroke="#1a1a1a" stroke-width="1.25"/>
<line x1="101.02" y1="297.36" x2="101.02" y2="300.56" stroke="#1a1a1a" stroke-width="1.25"/>
<line x1="104.03" y1="297.36" x2="104.03" y2="300.56" stroke="#1a1a1a" stroke-width="1.25"/>
<line x1="123.1" y1="297.36" x2="123.1" y2="300.56" stroke="#1a1a1a" stroke-width="1.25"/>
<text x="32" y="346.81" font-size="8.6" font-weight="bold" text-anchor="end" fill="#111" textLength="3.9" lengthAdjust="spacingAndGlyphs" stroke="#111" stroke-width="0.28">0</text>
<text x="32" y="324.25" font-size="8.6" font-weight="bold" text-anchor="end" fill="#111" textLength="7.8" lengthAdjust="spacingAndGlyphs" stroke="#111" stroke-width="0.28">20</text>
<text x="32" y="301.69" font-size="8.6" font-weight="bold" text-anchor="end" fill="#111" textLength="7.8" lengthAdjust="spacingAndGlyphs" stroke="#111" stroke-width="0.28">40</text>
<text x="32" y="279.13" font-size="8.6" font-weight="bold" text-anchor="end" fill="#111" textLength="7.8" lengthAdjust="spacingAndGlyphs" stroke="#111" stroke-width="0.28">60</text>
<text x="32" y="256.57" font-size="8.6" font-weight="bold" text-anchor="end" fill="#111" textLength="7.8" lengthAdjust="spacingAndGlyphs" stroke="#111" stroke-width="0.28">80</text>
<text x="32" y="234.01" font-size="8.6" font-weight="bold" text-anchor="end" fill="#111" textLength="11.7" lengthAdjust="spacingAndGlyphs" stroke="#111" stroke-width="0.28">100</text>
<text x="36.4" y="355.01" font-size="8.6" font-weight="bold" text-anchor="middle" fill="#111" textLength="3.9" lengthAdjust="spacingAndGlyphs" stroke="#111" stroke-width="0.28">0</text>
<text x="47.96" y="355.01" font-size="8.6" font-weight="bold" text-anchor="middle" fill="#111" textLength="3.9" lengthAdjust="spacingAndGlyphs" stroke="#111" stroke-width="0.28">1</text>
<text x="59.52" y="355.01" font-size="8.6" font-weight="bold" text-anchor="middle" fill="#111" textLength="3.9" lengthAdjust="spacingAndGlyphs" stroke="#111" stroke-width="0.28">2</text>
<text x="71.08" y="355.01" font-size="8.6" font-weight="bold" text-anchor="middle" fill="#111" textLength="3.9" lengthAdjust="spacingAndGlyphs" stroke="#111" stroke-width="0.28">3</text>
<text x="82.64" y="355.01" font-size="8.6" font-weight="bold" text-anchor="middle" fill="#111" textLength="3.9" lengthAdjust="spacingAndGlyphs" stroke="#111" stroke-width="0.28">4</text>
<text x="94.2" y="355.01" font-size="8.6" font-weight="bold" text-anchor="middle" fill="#111" textLength="3.9" lengthAdjust="spacingAndGlyphs" stroke="#111" stroke-width="0.28">5</text>
<text x="105.76" y="355.01" font-size="8.6" font-weight="bold" text-anchor="middle" fill="#111" textLength="3.9" lengthAdjust="spacingAndGlyphs" stroke="#111" stroke-width="0.28">6</text>
<text x="117.32" y="355.01" font-size="8.6" font-weight="bold" text-anchor="middle" fill="#111" textLength="3.9" lengthAdjust="spacingAndGlyphs" stroke="#111" stroke-width="0.28">7</text>
<text x="128.88" y="355.01" font-size="8.6" font-weight="bold" text-anchor="middle" fill="#111" textLength="3.9" lengthAdjust="spacingAndGlyphs" stroke="#111" stroke-width="0.28">8</text>
<text x="140.44" y="355.01" font-size="8.6" font-weight="bold" text-anchor="middle" fill="#111" textLength="3.9" lengthAdjust="spacingAndGlyphs" stroke="#111" stroke-width="0.28">9</text>
<text x="152" y="355.01" font-size="8.6" font-weight="bold" text-anchor="middle" fill="#111" textLength="7.8" lengthAdjust="spacingAndGlyphs" stroke="#111" stroke-width="0.28">10</text>
<text x="163.56" y="355.01" font-size="8.6" font-weight="bold" text-anchor="middle" fill="#111" textLength="7.8" lengthAdjust="spacingAndGlyphs" stroke="#111" stroke-width="0.28">11</text>
<text x="175.12" y="355.01" font-size="8.6" font-weight="bold" text-anchor="middle" fill="#111" textLength="7.8" lengthAdjust="spacingAndGlyphs" stroke="#111" stroke-width="0.28">12</text>
<text x="186.68" y="355.01" font-size="8.6" font-weight="bold" text-anchor="middle" fill="#111" textLength="7.8" lengthAdjust="spacingAndGlyphs" stroke="#111" stroke-width="0.28">13</text>
<text x="198.24" y="355.01" font-size="8.6" font-weight="bold" text-anchor="middle" fill="#111" textLength="7.8" lengthAdjust="spacingAndGlyphs" stroke="#111" stroke-width="0.28">14</text>
<text x="209.8" y="355.01" font-size="8.6" font-weight="bold" text-anchor="middle" fill="#111" textLength="7.8" lengthAdjust="spacingAndGlyphs" stroke="#111" stroke-width="0.28">15</text>
<text x="221.36" y="355.01" font-size="8.6" font-weight="bold" text-anchor="middle" fill="#111" textLength="7.8" lengthAdjust="spacingAndGlyphs" stroke="#111" stroke-width="0.28">16</text>
<text x="232.92" y="355.01" font-size="8.6" font-weight="bold" text-anchor="middle" fill="#111" textLength="7.8" lengthAdjust="spacingAndGlyphs" stroke="#111" stroke-width="0.28">17</text>
<text x="106.28" y="365.75" font-size="9" font-weight="bold" fill="#111" textLength="56.26" lengthAdjust="spacingAndGlyphs" stroke="#111" stroke-width="0.28">Years from CR</text>
<text transform="translate(15.9,346.49) rotate(-90)" x="0" y="0" font-size="9" font-weight="bold" fill="#111" textLength="117.94" lengthAdjust="spacingAndGlyphs" stroke="#111" stroke-width="0.28">Percent Relapse Free Survival</text>
<text x="17.04" y="379.69" font-size="9.7" font-weight="bold" fill="#111" textLength="104.81" lengthAdjust="spacingAndGlyphs" stroke="#111" stroke-width="0.28">B: Relapse free survival</text>
<text x="45.8" y="337.3" font-size="10" font-weight="bold" fill="#111" textLength="39.31" lengthAdjust="spacingAndGlyphs" stroke="#111" stroke-width="0.28">p= 0.001</text>
<line x1="190" y1="300.5" x2="198.5" y2="300.5" stroke="#3a3a70" stroke-width="1.1"/>
<path d="M192.95 300.8L194.25 298.3L195.55 300.8Z" fill="#222"/>
<text x="202.84" y="303.24" font-size="6.4" font-weight="normal" fill="#2a2a2a" textLength="22.47" lengthAdjust="spacingAndGlyphs">0 points</text>
<line x1="190" y1="309.4" x2="198.5" y2="309.4" stroke="#a89070" stroke-width="1.1"/>
<path d="M192.95 309.7L194.25 307.2L195.55 309.7Z" fill="#222"/>
<text x="202.62" y="312.14" font-size="6.4" font-weight="normal" fill="#2a2a2a" textLength="19.26" lengthAdjust="spacingAndGlyphs">1 point</text>
<line x1="190" y1="318.4" x2="198.5" y2="318.4" stroke="#3d6548" stroke-width="1.1"/>
<path d="M192.95 318.7L194.25 316.2L195.55 318.7Z" fill="#222"/>
<text x="202.78" y="321.14" font-size="6.4" font-weight="normal" fill="#2a2a2a" textLength="22.47" lengthAdjust="spacingAndGlyphs">2 points</text>
<line x1="190" y1="327.2" x2="198.5" y2="327.2" stroke="#98404e" stroke-width="1.1"/>
<path d="M192.95 327.5L194.25 325L195.55 327.5Z" fill="#222"/>
<text x="202.84" y="329.94" font-size="6.4" font-weight="normal" fill="#2a2a2a" textLength="22.47" lengthAdjust="spacingAndGlyphs">3 points</text>
<line x1="304.6" y1="228.9" x2="304.6" y2="344.6" stroke="#262626" stroke-width="1.3"/>
<line x1="304" y1="344" x2="496.4" y2="344" stroke="#262626" stroke-width="1.3"/>
<line x1="301.1" y1="344" x2="304.6" y2="344" stroke="#262626" stroke-width="1.1"/>
<line x1="301.1" y1="321.04" x2="304.6" y2="321.04" stroke="#262626" stroke-width="1.1"/>
<line x1="301.1" y1="298.08" x2="304.6" y2="298.08" stroke="#262626" stroke-width="1.1"/>
<line x1="301.1" y1="275.12" x2="304.6" y2="275.12" stroke="#262626" stroke-width="1.1"/>
<line x1="301.1" y1="252.16" x2="304.6" y2="252.16" stroke="#262626" stroke-width="1.1"/>
<line x1="301.1" y1="229.2" x2="304.6" y2="229.2" stroke="#262626" stroke-width="1.1"/>
<line x1="304.6" y1="344" x2="304.6" y2="347.5" stroke="#262626" stroke-width="1.1"/>
<line x1="323.72" y1="344" x2="323.72" y2="347.5" stroke="#262626" stroke-width="1.1"/>
<line x1="342.84" y1="344" x2="342.84" y2="347.5" stroke="#262626" stroke-width="1.1"/>
<line x1="361.96" y1="344" x2="361.96" y2="347.5" stroke="#262626" stroke-width="1.1"/>
<line x1="381.08" y1="344" x2="381.08" y2="347.5" stroke="#262626" stroke-width="1.1"/>
<line x1="400.2" y1="344" x2="400.2" y2="347.5" stroke="#262626" stroke-width="1.1"/>
<line x1="419.32" y1="344" x2="419.32" y2="347.5" stroke="#262626" stroke-width="1.1"/>
<line x1="438.44" y1="344" x2="438.44" y2="347.5" stroke="#262626" stroke-width="1.1"/>
<line x1="457.56" y1="344" x2="457.56" y2="347.5" stroke="#262626" stroke-width="1.1"/>
<line x1="476.68" y1="344" x2="476.68" y2="347.5" stroke="#262626" stroke-width="1.1"/>
<line x1="495.8" y1="344" x2="495.8" y2="347.5" stroke="#262626" stroke-width="1.1"/>
<path d="M304.6 229.2H459.47" fill="none" stroke="#4c4c8a" stroke-width="1.3"/>
<path d="M304.6 229.2H305.56V232.07H321.43V236.09H327.54V239.19H341.69V239.65H388.73V246.53H482.42" fill="none" stroke="#d49e74" stroke-width="1.3"/>
<path d="M304.6 229.2H305.56V234.94H321.43V236.43H341.69V241.25H388.73V244.7H397.71V249.98H482.42" fill="none" stroke="#387544" stroke-width="1.3"/>
<path d="M304.6 229.2H351.64V248.14H374.96V267.08H378.79V286.26H459.47" fill="none" stroke="#b63e50" stroke-width="1.3"/>
<line x1="308.04" y1="226.3" x2="308.04" y2="229.5" stroke="#1a1a1a" stroke-width="1.25"/>
<line x1="317.22" y1="226.3" x2="317.22" y2="229.5" stroke="#1a1a1a" stroke-width="1.25"/>
<line x1="330.99" y1="226.3" x2="330.99" y2="229.5" stroke="#1a1a1a" stroke-width="1.25"/>
<line x1="359.09" y1="226.3" x2="359.09" y2="229.5" stroke="#1a1a1a" stroke-width="1.25"/>
<line x1="377.26" y1="226.3" x2="377.26" y2="229.5" stroke="#1a1a1a" stroke-width="1.25"/>
<line x1="405.55" y1="226.3" x2="405.55" y2="229.5" stroke="#1a1a1a" stroke-width="1.25"/>
<line x1="458.13" y1="226.3" x2="458.13" y2="229.5" stroke="#1a1a1a" stroke-width="1.25"/>
<line x1="308.42" y1="229.17" x2="308.42" y2="232.37" stroke="#1a1a1a" stroke-width="1.25"/>
<line x1="310.34" y1="229.17" x2="310.34" y2="232.37" stroke="#1a1a1a" stroke-width="1.25"/>
<line x1="363.87" y1="236.75" x2="363.87" y2="239.95" stroke="#1a1a1a" stroke-width="1.25"/>
<line x1="371.52" y1="236.75" x2="371.52" y2="239.95" stroke="#1a1a1a" stroke-width="1.25"/>
<line x1="378.21" y1="236.75" x2="378.21" y2="239.95" stroke="#1a1a1a" stroke-width="1.25"/>
<line x1="381.08" y1="236.75" x2="381.08" y2="239.95" stroke="#1a1a1a" stroke-width="1.25"/>
<line x1="384.9" y1="236.75" x2="384.9" y2="239.95" stroke="#1a1a1a" stroke-width="1.25"/>
<line x1="389.68" y1="243.63" x2="389.68" y2="246.83" stroke="#1a1a1a" stroke-width="1.25"/>
<line x1="391.6" y1="243.63" x2="391.6" y2="246.83" stroke="#1a1a1a" stroke-width="1.25"/>
<line x1="393.51" y1="243.63" x2="393.51" y2="246.83" stroke="#1a1a1a" stroke-width="1.25"/>
<line x1="404.02" y1="243.63" x2="404.02" y2="246.83" stroke="#1a1a1a" stroke-width="1.25"/>
<line x1="408.8" y1="243.63" x2="408.8" y2="246.83" stroke="#1a1a1a" stroke-width="1.25"/>
<line x1="421.23" y1="243.63" x2="421.23" y2="246.83" stroke="#1a1a1a" stroke-width="1.25"/>
<line x1="434.62" y1="243.63" x2="434.62" y2="246.83" stroke="#1a1a1a" stroke-width="1.25"/>
<line x1="439.4" y1="243.63" x2="439.4" y2="246.83" stroke="#1a1a1a" stroke-width="1.25"/>
<line x1="446.09" y1="243.63" x2="446.09" y2="246.83" stroke="#1a1a1a" stroke-width="1.25"/>
<line x1="456.6" y1="243.63" x2="456.6" y2="246.83" stroke="#1a1a1a" stroke-width="1.25"/>
<line x1="467.12" y1="243.63" x2="467.12" y2="246.83" stroke="#1a1a1a" stroke-width="1.25"/>
<line x1="472.86" y1="243.63" x2="472.86" y2="246.83" stroke="#1a1a1a" stroke-width="1.25"/>
<line x1="482.42" y1="243.63" x2="482.42" y2="246.83" stroke="#1a1a1a" stroke-width="1.25"/>
<line x1="307.47" y1="232.04" x2="307.47" y2="235.24" stroke="#1a1a1a" stroke-width="1.25"/>
<line x1="323.72" y1="233.53" x2="323.72" y2="236.73" stroke="#1a1a1a" stroke-width="1.25"/>
<line x1="329.46" y1="233.53" x2="329.46" y2="236.73" stroke="#1a1a1a" stroke-width="1.25"/>
<line x1="336.15" y1="233.53" x2="336.15" y2="236.73" stroke="#1a1a1a" stroke-width="1.25"/>
<line x1="354.31" y1="238.35" x2="354.31" y2="241.55" stroke="#1a1a1a" stroke-width="1.25"/>
<line x1="389.68" y1="241.8" x2="389.68" y2="245" stroke="#1a1a1a" stroke-width="1.25"/>
<line x1="391.6" y1="241.8" x2="391.6" y2="245" stroke="#1a1a1a" stroke-width="1.25"/>
<line x1="400.2" y1="247.08" x2="400.2" y2="250.28" stroke="#1a1a1a" stroke-width="1.25"/>
<line x1="406.89" y1="247.08" x2="406.89" y2="250.28" stroke="#1a1a1a" stroke-width="1.25"/>
<line x1="430.79" y1="247.08" x2="430.79" y2="250.28" stroke="#1a1a1a" stroke-width="1.25"/>
<line x1="433.66" y1="247.08" x2="433.66" y2="250.28" stroke="#1a1a1a" stroke-width="1.25"/>
<line x1="450.87" y1="247.08" x2="450.87" y2="250.28" stroke="#1a1a1a" stroke-width="1.25"/>
<line x1="469.03" y1="247.08" x2="469.03" y2="250.28" stroke="#1a1a1a" stroke-width="1.25"/>
<line x1="476.68" y1="247.08" x2="476.68" y2="250.28" stroke="#1a1a1a" stroke-width="1.25"/>
<line x1="480.5" y1="247.08" x2="480.5" y2="250.28" stroke="#1a1a1a" stroke-width="1.25"/>
<line x1="346.66" y1="226.3" x2="346.66" y2="229.5" stroke="#1a1a1a" stroke-width="1.25"/>
<line x1="388.73" y1="283.36" x2="388.73" y2="286.56" stroke="#1a1a1a" stroke-width="1.25"/>
<line x1="428.88" y1="283.36" x2="428.88" y2="286.56" stroke="#1a1a1a" stroke-width="1.25"/>
<line x1="459.47" y1="283.36" x2="459.47" y2="286.56" stroke="#1a1a1a" stroke-width="1.25"/>
<text x="301" y="347.15" font-size="9" font-weight="bold" text-anchor="end" fill="#111" textLength="4.1" lengthAdjust="spacingAndGlyphs" stroke="#111" stroke-width="0.28">0</text>
<text x="301" y="324.19" font-size="9" font-weight="bold" text-anchor="end" fill="#111" textLength="8.2" lengthAdjust="spacingAndGlyphs" stroke="#111" stroke-width="0.28">20</text>
<text x="301" y="301.23" font-size="9" font-weight="bold" text-anchor="end" fill="#111" textLength="8.2" lengthAdjust="spacingAndGlyphs" stroke="#111" stroke-width="0.28">40</text>
<text x="301" y="278.27" font-size="9" font-weight="bold" text-anchor="end" fill="#111" textLength="8.2" lengthAdjust="spacingAndGlyphs" stroke="#111" stroke-width="0.28">60</text>
<text x="301" y="255.31" font-size="9" font-weight="bold" text-anchor="end" fill="#111" textLength="8.2" lengthAdjust="spacingAndGlyphs" stroke="#111" stroke-width="0.28">80</text>
<text x="301" y="232.35" font-size="9" font-weight="bold" text-anchor="end" fill="#111" textLength="12.3" lengthAdjust="spacingAndGlyphs" stroke="#111" stroke-width="0.28">100</text>
<text x="304.6" y="356.15" font-size="9" font-weight="bold" text-anchor="middle" fill="#111" textLength="4.1" lengthAdjust="spacingAndGlyphs" stroke="#111" stroke-width="0.28">0</text>
<text x="323.72" y="356.15" font-size="9" font-weight="bold" text-anchor="middle" fill="#111" textLength="4.1" lengthAdjust="spacingAndGlyphs" stroke="#111" stroke-width="0.28">1</text>
<text x="342.84" y="356.15" font-size="9" font-weight="bold" text-anchor="middle" fill="#111" textLength="4.1" lengthAdjust="spacingAndGlyphs" stroke="#111" stroke-width="0.28">2</text>
<text x="361.96" y="356.15" font-size="9" font-weight="bold" text-anchor="middle" fill="#111" textLength="4.1" lengthAdjust="spacingAndGlyphs" stroke="#111" stroke-width="0.28">3</text>
<text x="381.08" y="356.15" font-size="9" font-weight="bold" text-anchor="middle" fill="#111" textLength="4.1" lengthAdjust="spacingAndGlyphs" stroke="#111" stroke-width="0.28">4</text>
<text x="400.2" y="356.15" font-size="9" font-weight="bold" text-anchor="middle" fill="#111" textLength="4.1" lengthAdjust="spacingAndGlyphs" stroke="#111" stroke-width="0.28">5</text>
<text x="419.32" y="356.15" font-size="9" font-weight="bold" text-anchor="middle" fill="#111" textLength="4.1" lengthAdjust="spacingAndGlyphs" stroke="#111" stroke-width="0.28">6</text>
<text x="438.44" y="356.15" font-size="9" font-weight="bold" text-anchor="middle" fill="#111" textLength="4.1" lengthAdjust="spacingAndGlyphs" stroke="#111" stroke-width="0.28">7</text>
<text x="457.56" y="356.15" font-size="9" font-weight="bold" text-anchor="middle" fill="#111" textLength="4.1" lengthAdjust="spacingAndGlyphs" stroke="#111" stroke-width="0.28">8</text>
<text x="476.68" y="356.15" font-size="9" font-weight="bold" text-anchor="middle" fill="#111" textLength="4.1" lengthAdjust="spacingAndGlyphs" stroke="#111" stroke-width="0.28">9</text>
<text x="495.8" y="356.15" font-size="9" font-weight="bold" text-anchor="middle" fill="#111" textLength="8.2" lengthAdjust="spacingAndGlyphs" stroke="#111" stroke-width="0.28">10</text>
<text x="369.97" y="367.32" font-size="9.2" font-weight="bold" fill="#111" textLength="59.68" lengthAdjust="spacingAndGlyphs" stroke="#111" stroke-width="0.28">Years from CR</text>
<text transform="translate(282.9,348.72) rotate(-90)" x="0" y="0" font-size="9.6" font-weight="bold" fill="#111" textLength="124.6" lengthAdjust="spacingAndGlyphs" stroke="#111" stroke-width="0.28">Percent Relapse Free Survival</text>
<text x="279.44" y="379.59" font-size="9.7" font-weight="bold" fill="#111" textLength="104.3" lengthAdjust="spacingAndGlyphs" stroke="#111" stroke-width="0.28">B: Relapse free survival</text>
<text x="315.79" y="337.4" font-size="10" font-weight="bold" fill="#111" textLength="34.31" lengthAdjust="spacingAndGlyphs" stroke="#111" stroke-width="0.28">p= 0.21</text>
<line x1="454.1" y1="302.7" x2="462.9" y2="302.7" stroke="#3a3a70" stroke-width="1.1"/>
<path d="M457.2 303L458.5 300.5L459.8 303Z" fill="#222"/>
<text x="466.64" y="305.47" font-size="6.5" font-weight="normal" fill="#2a2a2a" textLength="23.08" lengthAdjust="spacingAndGlyphs">0 points</text>
<line x1="454.1" y1="311.5" x2="462.9" y2="311.5" stroke="#a89070" stroke-width="1.1"/>
<path d="M457.2 311.8L458.5 309.3L459.8 311.8Z" fill="#222"/>
<text x="466.41" y="314.27" font-size="6.5" font-weight="normal" fill="#2a2a2a" textLength="19.78" lengthAdjust="spacingAndGlyphs">1 point</text>
<line x1="454.1" y1="320.5" x2="462.9" y2="320.5" stroke="#3d6548" stroke-width="1.1"/>
<path d="M457.2 320.8L458.5 318.3L459.8 320.8Z" fill="#222"/>
<text x="466.57" y="323.27" font-size="6.5" font-weight="normal" fill="#2a2a2a" textLength="23.08" lengthAdjust="spacingAndGlyphs">2 points</text>
<line x1="454.1" y1="329.4" x2="462.9" y2="329.4" stroke="#98404e" stroke-width="1.1"/>
<path d="M457.2 329.7L458.5 327.2L459.8 329.7Z" fill="#222"/>
<text x="466.64" y="332.17" font-size="6.5" font-weight="normal" fill="#2a2a2a" textLength="23.08" lengthAdjust="spacingAndGlyphs">3 points</text>
<line x1="34.7" y1="403.1" x2="34.7" y2="514.9" stroke="#262626" stroke-width="1.3"/>
<line x1="34.1" y1="514.3" x2="229.27" y2="514.3" stroke="#262626" stroke-width="1.3"/>
<line x1="31.2" y1="514.3" x2="34.7" y2="514.3" stroke="#262626" stroke-width="1.1"/>
<line x1="31.2" y1="492.12" x2="34.7" y2="492.12" stroke="#262626" stroke-width="1.1"/>
<line x1="31.2" y1="469.94" x2="34.7" y2="469.94" stroke="#262626" stroke-width="1.1"/>
<line x1="31.2" y1="447.76" x2="34.7" y2="447.76" stroke="#262626" stroke-width="1.1"/>
<line x1="31.2" y1="425.58" x2="34.7" y2="425.58" stroke="#262626" stroke-width="1.1"/>
<line x1="31.2" y1="403.4" x2="34.7" y2="403.4" stroke="#262626" stroke-width="1.1"/>
<line x1="34.7" y1="514.3" x2="34.7" y2="517.8" stroke="#262626" stroke-width="1.1"/>
<line x1="46.11" y1="514.3" x2="46.11" y2="517.8" stroke="#262626" stroke-width="1.1"/>
<line x1="57.52" y1="514.3" x2="57.52" y2="517.8" stroke="#262626" stroke-width="1.1"/>
<line x1="68.93" y1="514.3" x2="68.93" y2="517.8" stroke="#262626" stroke-width="1.1"/>
<line x1="80.34" y1="514.3" x2="80.34" y2="517.8" stroke="#262626" stroke-width="1.1"/>
<line x1="91.75" y1="514.3" x2="91.75" y2="517.8" stroke="#262626" stroke-width="1.1"/>
<line x1="103.16" y1="514.3" x2="103.16" y2="517.8" stroke="#262626" stroke-width="1.1"/>
<line x1="114.57" y1="514.3" x2="114.57" y2="517.8" stroke="#262626" stroke-width="1.1"/>
<line x1="125.98" y1="514.3" x2="125.98" y2="517.8" stroke="#262626" stroke-width="1.1"/>
<line x1="137.39" y1="514.3" x2="137.39" y2="517.8" stroke="#262626" stroke-width="1.1"/>
<line x1="148.8" y1="514.3" x2="148.8" y2="517.8" stroke="#262626" stroke-width="1.1"/>
<line x1="160.21" y1="514.3" x2="160.21" y2="517.8" stroke="#262626" stroke-width="1.1"/>
<line x1="171.62" y1="514.3" x2="171.62" y2="517.8" stroke="#262626" stroke-width="1.1"/>
<line x1="183.03" y1="514.3" x2="183.03" y2="517.8" stroke="#262626" stroke-width="1.1"/>
<line x1="194.44" y1="514.3" x2="194.44" y2="517.8" stroke="#262626" stroke-width="1.1"/>
<line x1="205.85" y1="514.3" x2="205.85" y2="517.8" stroke="#262626" stroke-width="1.1"/>
<line x1="217.26" y1="514.3" x2="217.26" y2="517.8" stroke="#262626" stroke-width="1.1"/>
<line x1="228.67" y1="514.3" x2="228.67" y2="517.8" stroke="#262626" stroke-width="1.1"/>
<path d="M34.7 514.3H217.26" fill="none" stroke="#4c4c8a" stroke-width="1.3"/>
<path d="M34.7 514.3H73.84V505.43H187.59" fill="none" stroke="#d49e74" stroke-width="1.3"/>
<path d="M34.7 514.3H46.79V500.22H57.86V483.91H217.26" fill="none" stroke="#387544" stroke-width="1.3"/>
<path d="M34.7 514.3H41.77V489.68H51.02V463.95H120.62" fill="none" stroke="#b63e50" stroke-width="1.3"/>
<line x1="36.07" y1="511.4" x2="36.07" y2="514.6" stroke="#1a1a1a" stroke-width="1.25"/>
<line x1="38.69" y1="511.4" x2="38.69" y2="514.6" stroke="#1a1a1a" stroke-width="1.25"/>
<line x1="40.98" y1="511.4" x2="40.98" y2="514.6" stroke="#1a1a1a" stroke-width="1.25"/>
<line x1="52.39" y1="511.4" x2="52.39" y2="514.6" stroke="#1a1a1a" stroke-width="1.25"/>
<line x1="81.71" y1="511.4" x2="81.71" y2="514.6" stroke="#1a1a1a" stroke-width="1.25"/>
<line x1="144.46" y1="511.4" x2="144.46" y2="514.6" stroke="#1a1a1a" stroke-width="1.25"/>
<line x1="156.56" y1="511.4" x2="156.56" y2="514.6" stroke="#1a1a1a" stroke-width="1.25"/>
<line x1="171.39" y1="511.4" x2="171.39" y2="514.6" stroke="#1a1a1a" stroke-width="1.25"/>
<line x1="217.26" y1="511.4" x2="217.26" y2="514.6" stroke="#1a1a1a" stroke-width="1.25"/>
<line x1="74.98" y1="502.53" x2="74.98" y2="505.73" stroke="#1a1a1a" stroke-width="1.25"/>
<line x1="78.97" y1="502.53" x2="78.97" y2="505.73" stroke="#1a1a1a" stroke-width="1.25"/>
<line x1="85.02" y1="502.53" x2="85.02" y2="505.73" stroke="#1a1a1a" stroke-width="1.25"/>
<line x1="100.54" y1="502.53" x2="100.54" y2="505.73" stroke="#1a1a1a" stroke-width="1.25"/>
<line x1="101.33" y1="502.53" x2="101.33" y2="505.73" stroke="#1a1a1a" stroke-width="1.25"/>
<line x1="106.7" y1="502.53" x2="106.7" y2="505.73" stroke="#1a1a1a" stroke-width="1.25"/>
<line x1="112.06" y1="502.53" x2="112.06" y2="505.73" stroke="#1a1a1a" stroke-width="1.25"/>
<line x1="121.42" y1="502.53" x2="121.42" y2="505.73" stroke="#1a1a1a" stroke-width="1.25"/>
<line x1="128.26" y1="502.53" x2="128.26" y2="505.73" stroke="#1a1a1a" stroke-width="1.25"/>
<line x1="131" y1="502.53" x2="131" y2="505.73" stroke="#1a1a1a" stroke-width="1.25"/>
<line x1="134.99" y1="502.53" x2="134.99" y2="505.73" stroke="#1a1a1a" stroke-width="1.25"/>
<line x1="138.99" y1="502.53" x2="138.99" y2="505.73" stroke="#1a1a1a" stroke-width="1.25"/>
<line x1="143.09" y1="502.53" x2="143.09" y2="505.73" stroke="#1a1a1a" stroke-width="1.25"/>
<line x1="148.46" y1="502.53" x2="148.46" y2="505.73" stroke="#1a1a1a" stroke-width="1.25"/>
<line x1="155.3" y1="502.53" x2="155.3" y2="505.73" stroke="#1a1a1a" stroke-width="1.25"/>
<line x1="156.56" y1="502.53" x2="156.56" y2="505.73" stroke="#1a1a1a" stroke-width="1.25"/>
<line x1="163.29" y1="502.53" x2="163.29" y2="505.73" stroke="#1a1a1a" stroke-width="1.25"/>
<line x1="165.92" y1="502.53" x2="165.92" y2="505.73" stroke="#1a1a1a" stroke-width="1.25"/>
<line x1="171.39" y1="502.53" x2="171.39" y2="505.73" stroke="#1a1a1a" stroke-width="1.25"/>
<line x1="172.76" y1="502.53" x2="172.76" y2="505.73" stroke="#1a1a1a" stroke-width="1.25"/>
<line x1="185.65" y1="502.53" x2="185.65" y2="505.73" stroke="#1a1a1a" stroke-width="1.25"/>
<line x1="187.59" y1="502.53" x2="187.59" y2="505.73" stroke="#1a1a1a" stroke-width="1.25"/>
<line x1="58.43" y1="481.01" x2="58.43" y2="484.21" stroke="#1a1a1a" stroke-width="1.25"/>
<line x1="89.47" y1="481.01" x2="89.47" y2="484.21" stroke="#1a1a1a" stroke-width="1.25"/>
<line x1="91.18" y1="481.01" x2="91.18" y2="484.21" stroke="#1a1a1a" stroke-width="1.25"/>
<line x1="103.73" y1="481.01" x2="103.73" y2="484.21" stroke="#1a1a1a" stroke-width="1.25"/>
<line x1="107.15" y1="481.01" x2="107.15" y2="484.21" stroke="#1a1a1a" stroke-width="1.25"/>
<line x1="120.28" y1="481.01" x2="120.28" y2="484.21" stroke="#1a1a1a" stroke-width="1.25"/>
<line x1="130.54" y1="481.01" x2="130.54" y2="484.21" stroke="#1a1a1a" stroke-width="1.25"/>
<line x1="131.69" y1="481.01" x2="131.69" y2="484.21" stroke="#1a1a1a" stroke-width="1.25"/>
<line x1="156.22" y1="481.01" x2="156.22" y2="484.21" stroke="#1a1a1a" stroke-width="1.25"/>
<line x1="184.17" y1="481.01" x2="184.17" y2="484.21" stroke="#1a1a1a" stroke-width="1.25"/>
<line x1="217.26" y1="481.01" x2="217.26" y2="484.21" stroke="#1a1a1a" stroke-width="1.25"/>
<line x1="41.89" y1="486.78" x2="41.89" y2="489.98" stroke="#1a1a1a" stroke-width="1.25"/>
<line x1="51.47" y1="461.05" x2="51.47" y2="464.25" stroke="#1a1a1a" stroke-width="1.25"/>
<line x1="52.96" y1="461.05" x2="52.96" y2="464.25" stroke="#1a1a1a" stroke-width="1.25"/>
<line x1="72.35" y1="461.05" x2="72.35" y2="464.25" stroke="#1a1a1a" stroke-width="1.25"/>
<line x1="86.62" y1="461.05" x2="86.62" y2="464.25" stroke="#1a1a1a" stroke-width="1.25"/>
<line x1="98.6" y1="461.05" x2="98.6" y2="464.25" stroke="#1a1a1a" stroke-width="1.25"/>
<line x1="101.45" y1="461.05" x2="101.45" y2="464.25" stroke="#1a1a1a" stroke-width="1.25"/>
<line x1="120.62" y1="461.05" x2="120.62" y2="464.25" stroke="#1a1a1a" stroke-width="1.25"/>
<text x="31" y="517.31" font-size="8.6" font-weight="bold" text-anchor="end" fill="#111" textLength="3.9" lengthAdjust="spacingAndGlyphs" stroke="#111" stroke-width="0.28">0</text>
<text x="31" y="495.13" font-size="8.6" font-weight="bold" text-anchor="end" fill="#111" textLength="7.8" lengthAdjust="spacingAndGlyphs" stroke="#111" stroke-width="0.28">10</text>
<text x="31" y="472.95" font-size="8.6" font-weight="bold" text-anchor="end" fill="#111" textLength="7.8" lengthAdjust="spacingAndGlyphs" stroke="#111" stroke-width="0.28">20</text>
<text x="31" y="450.77" font-size="8.6" font-weight="bold" text-anchor="end" fill="#111" textLength="7.8" lengthAdjust="spacingAndGlyphs" stroke="#111" stroke-width="0.28">30</text>
<text x="31" y="428.59" font-size="8.6" font-weight="bold" text-anchor="end" fill="#111" textLength="7.8" lengthAdjust="spacingAndGlyphs" stroke="#111" stroke-width="0.28">40</text>
<text x="31" y="406.41" font-size="8.6" font-weight="bold" text-anchor="end" fill="#111" textLength="7.8" lengthAdjust="spacingAndGlyphs" stroke="#111" stroke-width="0.28">50</text>
<text x="34.7" y="525.51" font-size="8.6" font-weight="bold" text-anchor="middle" fill="#111" textLength="3.9" lengthAdjust="spacingAndGlyphs" stroke="#111" stroke-width="0.28">0</text>
<text x="46.11" y="525.51" font-size="8.6" font-weight="bold" text-anchor="middle" fill="#111" textLength="3.9" lengthAdjust="spacingAndGlyphs" stroke="#111" stroke-width="0.28">1</text>
<text x="57.52" y="525.51" font-size="8.6" font-weight="bold" text-anchor="middle" fill="#111" textLength="3.9" lengthAdjust="spacingAndGlyphs" stroke="#111" stroke-width="0.28">2</text>
<text x="68.93" y="525.51" font-size="8.6" font-weight="bold" text-anchor="middle" fill="#111" textLength="3.9" lengthAdjust="spacingAndGlyphs" stroke="#111" stroke-width="0.28">3</text>
<text x="80.34" y="525.51" font-size="8.6" font-weight="bold" text-anchor="middle" fill="#111" textLength="3.9" lengthAdjust="spacingAndGlyphs" stroke="#111" stroke-width="0.28">4</text>
<text x="91.75" y="525.51" font-size="8.6" font-weight="bold" text-anchor="middle" fill="#111" textLength="3.9" lengthAdjust="spacingAndGlyphs" stroke="#111" stroke-width="0.28">5</text>
<text x="103.16" y="525.51" font-size="8.6" font-weight="bold" text-anchor="middle" fill="#111" textLength="3.9" lengthAdjust="spacingAndGlyphs" stroke="#111" stroke-width="0.28">6</text>
<text x="114.57" y="525.51" font-size="8.6" font-weight="bold" text-anchor="middle" fill="#111" textLength="3.9" lengthAdjust="spacingAndGlyphs" stroke="#111" stroke-width="0.28">7</text>
<text x="125.98" y="525.51" font-size="8.6" font-weight="bold" text-anchor="middle" fill="#111" textLength="3.9" lengthAdjust="spacingAndGlyphs" stroke="#111" stroke-width="0.28">8</text>
<text x="137.39" y="525.51" font-size="8.6" font-weight="bold" text-anchor="middle" fill="#111" textLength="3.9" lengthAdjust="spacingAndGlyphs" stroke="#111" stroke-width="0.28">9</text>
<text x="148.8" y="525.51" font-size="8.6" font-weight="bold" text-anchor="middle" fill="#111" textLength="7.8" lengthAdjust="spacingAndGlyphs" stroke="#111" stroke-width="0.28">10</text>
<text x="160.21" y="525.51" font-size="8.6" font-weight="bold" text-anchor="middle" fill="#111" textLength="7.8" lengthAdjust="spacingAndGlyphs" stroke="#111" stroke-width="0.28">11</text>
<text x="171.62" y="525.51" font-size="8.6" font-weight="bold" text-anchor="middle" fill="#111" textLength="7.8" lengthAdjust="spacingAndGlyphs" stroke="#111" stroke-width="0.28">12</text>
<text x="183.03" y="525.51" font-size="8.6" font-weight="bold" text-anchor="middle" fill="#111" textLength="7.8" lengthAdjust="spacingAndGlyphs" stroke="#111" stroke-width="0.28">13</text>
<text x="194.44" y="525.51" font-size="8.6" font-weight="bold" text-anchor="middle" fill="#111" textLength="7.8" lengthAdjust="spacingAndGlyphs" stroke="#111" stroke-width="0.28">14</text>
<text x="205.85" y="525.51" font-size="8.6" font-weight="bold" text-anchor="middle" fill="#111" textLength="7.8" lengthAdjust="spacingAndGlyphs" stroke="#111" stroke-width="0.28">15</text>
<text x="217.26" y="525.51" font-size="8.6" font-weight="bold" text-anchor="middle" fill="#111" textLength="7.8" lengthAdjust="spacingAndGlyphs" stroke="#111" stroke-width="0.28">16</text>
<text x="228.67" y="525.51" font-size="8.6" font-weight="bold" text-anchor="middle" fill="#111" textLength="7.8" lengthAdjust="spacingAndGlyphs" stroke="#111" stroke-width="0.28">17</text>
<text x="103.78" y="536.25" font-size="9" font-weight="bold" fill="#111" textLength="55.56" lengthAdjust="spacingAndGlyphs" stroke="#111" stroke-width="0.28">Years from CR</text>
<text transform="translate(20.2,489.88) rotate(-90)" x="0" y="0" font-size="8.8" font-weight="bold" fill="#111" textLength="62.34" lengthAdjust="spacingAndGlyphs" stroke="#111" stroke-width="0.28">Percent Relapse</text>
<text x="14.27" y="559" font-size="9.7" font-weight="bold" fill="#111" textLength="155.2" lengthAdjust="spacingAndGlyphs" stroke="#111" stroke-width="0.28">C: Cumulative Incidence of Relapse</text>
<text x="45.69" y="414.8" font-size="10" font-weight="bold" fill="#111" textLength="34.37" lengthAdjust="spacingAndGlyphs" stroke="#111" stroke-width="0.28">p= 0.20</text>
<line x1="190.1" y1="405" x2="198.5" y2="405" stroke="#3a3a70" stroke-width="1.1"/>
<path d="M193 405.3L194.3 402.8L195.6 405.3Z" fill="#222"/>
<text x="202.74" y="407.74" font-size="6.4" font-weight="normal" fill="#2a2a2a" textLength="22.67" lengthAdjust="spacingAndGlyphs">0 points</text>
<line x1="190.1" y1="414.2" x2="198.5" y2="414.2" stroke="#a89070" stroke-width="1.1"/>
<path d="M193 414.5L194.3 412L195.6 414.5Z" fill="#222"/>
<text x="202.51" y="416.94" font-size="6.4" font-weight="normal" fill="#2a2a2a" textLength="19.43" lengthAdjust="spacingAndGlyphs">1 point</text>
<line x1="190.1" y1="423.1" x2="198.5" y2="423.1" stroke="#3d6548" stroke-width="1.1"/>
<path d="M193 423.4L194.3 420.9L195.6 423.4Z" fill="#222"/>
<text x="202.68" y="425.84" font-size="6.4" font-weight="normal" fill="#2a2a2a" textLength="22.67" lengthAdjust="spacingAndGlyphs">2 points</text>
<line x1="190.1" y1="431.9" x2="198.5" y2="431.9" stroke="#98404e" stroke-width="1.1"/>
<path d="M193 432.2L194.3 429.7L195.6 432.2Z" fill="#222"/>
<text x="202.74" y="434.64" font-size="6.4" font-weight="normal" fill="#2a2a2a" textLength="22.67" lengthAdjust="spacingAndGlyphs">3 points</text>
<line x1="301.4" y1="403.5" x2="301.4" y2="519.8" stroke="#262626" stroke-width="1.3"/>
<line x1="300.8" y1="519.2" x2="503.4" y2="519.2" stroke="#262626" stroke-width="1.3"/>
<line x1="297.9" y1="519.2" x2="301.4" y2="519.2" stroke="#262626" stroke-width="1.1"/>
<line x1="297.9" y1="496.12" x2="301.4" y2="496.12" stroke="#262626" stroke-width="1.1"/>
<line x1="297.9" y1="473.04" x2="301.4" y2="473.04" stroke="#262626" stroke-width="1.1"/>
<line x1="297.9" y1="449.96" x2="301.4" y2="449.96" stroke="#262626" stroke-width="1.1"/>
<line x1="297.9" y1="426.88" x2="301.4" y2="426.88" stroke="#262626" stroke-width="1.1"/>
<line x1="297.9" y1="403.8" x2="301.4" y2="403.8" stroke="#262626" stroke-width="1.1"/>
<line x1="301.4" y1="519.2" x2="301.4" y2="522.7" stroke="#262626" stroke-width="1.1"/>
<line x1="321.54" y1="519.2" x2="321.54" y2="522.7" stroke="#262626" stroke-width="1.1"/>
<line x1="341.68" y1="519.2" x2="341.68" y2="522.7" stroke="#262626" stroke-width="1.1"/>
<line x1="361.82" y1="519.2" x2="361.82" y2="522.7" stroke="#262626" stroke-width="1.1"/>
<line x1="381.96" y1="519.2" x2="381.96" y2="522.7" stroke="#262626" stroke-width="1.1"/>
<line x1="402.1" y1="519.2" x2="402.1" y2="522.7" stroke="#262626" stroke-width="1.1"/>
<line x1="422.24" y1="519.2" x2="422.24" y2="522.7" stroke="#262626" stroke-width="1.1"/>
<line x1="442.38" y1="519.2" x2="442.38" y2="522.7" stroke="#262626" stroke-width="1.1"/>
<line x1="462.52" y1="519.2" x2="462.52" y2="522.7" stroke="#262626" stroke-width="1.1"/>
<line x1="482.66" y1="519.2" x2="482.66" y2="522.7" stroke="#262626" stroke-width="1.1"/>
<line x1="502.8" y1="519.2" x2="502.8" y2="522.7" stroke="#262626" stroke-width="1.1"/>
<path d="M301.4 519.2H464.53" fill="none" stroke="#4c4c8a" stroke-width="1.3"/>
<path d="M301.4 519.2H318.12V511.81H324.56V504.66H391.22V489.2H489.51" fill="none" stroke="#d49e74" stroke-width="1.3"/>
<path d="M301.4 519.2H340.07V504.66H489.51" fill="none" stroke="#387544" stroke-width="1.3"/>
<path d="M301.4 519.2H350.54V480.66H379.95V432.42H450.44" fill="none" stroke="#b63e50" stroke-width="1.3"/>
<path d="M340.07 504.66H391.22" fill="none" stroke="#5f7238" stroke-width="1.3"/>
<line x1="303.41" y1="516.3" x2="303.41" y2="519.5" stroke="#1a1a1a" stroke-width="1.25"/>
<line x1="307.44" y1="516.3" x2="307.44" y2="519.5" stroke="#1a1a1a" stroke-width="1.25"/>
<line x1="311.47" y1="516.3" x2="311.47" y2="519.5" stroke="#1a1a1a" stroke-width="1.25"/>
<line x1="327.58" y1="516.3" x2="327.58" y2="519.5" stroke="#1a1a1a" stroke-width="1.25"/>
<line x1="332.62" y1="516.3" x2="332.62" y2="519.5" stroke="#1a1a1a" stroke-width="1.25"/>
<line x1="335.64" y1="516.3" x2="335.64" y2="519.5" stroke="#1a1a1a" stroke-width="1.25"/>
<line x1="345.71" y1="516.3" x2="345.71" y2="519.5" stroke="#1a1a1a" stroke-width="1.25"/>
<line x1="364.84" y1="516.3" x2="364.84" y2="519.5" stroke="#1a1a1a" stroke-width="1.25"/>
<line x1="381.96" y1="516.3" x2="381.96" y2="519.5" stroke="#1a1a1a" stroke-width="1.25"/>
<line x1="408.14" y1="516.3" x2="408.14" y2="519.5" stroke="#1a1a1a" stroke-width="1.25"/>
<line x1="464.53" y1="516.3" x2="464.53" y2="519.5" stroke="#1a1a1a" stroke-width="1.25"/>
<line x1="319.53" y1="508.91" x2="319.53" y2="512.11" stroke="#1a1a1a" stroke-width="1.25"/>
<line x1="322.55" y1="508.91" x2="322.55" y2="512.11" stroke="#1a1a1a" stroke-width="1.25"/>
<line x1="326.57" y1="501.76" x2="326.57" y2="504.96" stroke="#1a1a1a" stroke-width="1.25"/>
<line x1="333.62" y1="501.76" x2="333.62" y2="504.96" stroke="#1a1a1a" stroke-width="1.25"/>
<line x1="341.68" y1="501.76" x2="341.68" y2="504.96" stroke="#1a1a1a" stroke-width="1.25"/>
<line x1="392.03" y1="486.3" x2="392.03" y2="489.5" stroke="#1a1a1a" stroke-width="1.25"/>
<line x1="394.04" y1="486.3" x2="394.04" y2="489.5" stroke="#1a1a1a" stroke-width="1.25"/>
<line x1="396.06" y1="486.3" x2="396.06" y2="489.5" stroke="#1a1a1a" stroke-width="1.25"/>
<line x1="399.08" y1="486.3" x2="399.08" y2="489.5" stroke="#1a1a1a" stroke-width="1.25"/>
<line x1="401.09" y1="486.3" x2="401.09" y2="489.5" stroke="#1a1a1a" stroke-width="1.25"/>
<line x1="403.11" y1="486.3" x2="403.11" y2="489.5" stroke="#1a1a1a" stroke-width="1.25"/>
<line x1="406.13" y1="486.3" x2="406.13" y2="489.5" stroke="#1a1a1a" stroke-width="1.25"/>
<line x1="419.22" y1="486.3" x2="419.22" y2="489.5" stroke="#1a1a1a" stroke-width="1.25"/>
<line x1="430.3" y1="486.3" x2="430.3" y2="489.5" stroke="#1a1a1a" stroke-width="1.25"/>
<line x1="439.36" y1="486.3" x2="439.36" y2="489.5" stroke="#1a1a1a" stroke-width="1.25"/>
<line x1="446.41" y1="486.3" x2="446.41" y2="489.5" stroke="#1a1a1a" stroke-width="1.25"/>
<line x1="467.55" y1="486.3" x2="467.55" y2="489.5" stroke="#1a1a1a" stroke-width="1.25"/>
<line x1="477.62" y1="486.3" x2="477.62" y2="489.5" stroke="#1a1a1a" stroke-width="1.25"/>
<line x1="489.51" y1="486.3" x2="489.51" y2="489.5" stroke="#1a1a1a" stroke-width="1.25"/>
<line x1="347.72" y1="501.76" x2="347.72" y2="504.96" stroke="#1a1a1a" stroke-width="1.25"/>
<line x1="357.79" y1="501.76" x2="357.79" y2="504.96" stroke="#1a1a1a" stroke-width="1.25"/>
<line x1="369.88" y1="501.76" x2="369.88" y2="504.96" stroke="#1a1a1a" stroke-width="1.25"/>
<line x1="374.91" y1="501.76" x2="374.91" y2="504.96" stroke="#1a1a1a" stroke-width="1.25"/>
<line x1="380.95" y1="501.76" x2="380.95" y2="504.96" stroke="#1a1a1a" stroke-width="1.25"/>
<line x1="383.97" y1="501.76" x2="383.97" y2="504.96" stroke="#1a1a1a" stroke-width="1.25"/>
<line x1="385.99" y1="501.76" x2="385.99" y2="504.96" stroke="#1a1a1a" stroke-width="1.25"/>
<line x1="388" y1="501.76" x2="388" y2="504.96" stroke="#1a1a1a" stroke-width="1.25"/>
<line x1="400.09" y1="501.76" x2="400.09" y2="504.96" stroke="#1a1a1a" stroke-width="1.25"/>
<line x1="405.12" y1="501.76" x2="405.12" y2="504.96" stroke="#1a1a1a" stroke-width="1.25"/>
<line x1="416.2" y1="501.76" x2="416.2" y2="504.96" stroke="#1a1a1a" stroke-width="1.25"/>
<line x1="421.23" y1="501.76" x2="421.23" y2="504.96" stroke="#1a1a1a" stroke-width="1.25"/>
<line x1="442.38" y1="501.76" x2="442.38" y2="504.96" stroke="#1a1a1a" stroke-width="1.25"/>
<line x1="448.42" y1="501.76" x2="448.42" y2="504.96" stroke="#1a1a1a" stroke-width="1.25"/>
<line x1="453.46" y1="501.76" x2="453.46" y2="504.96" stroke="#1a1a1a" stroke-width="1.25"/>
<line x1="476.62" y1="501.76" x2="476.62" y2="504.96" stroke="#1a1a1a" stroke-width="1.25"/>
<line x1="482.66" y1="501.76" x2="482.66" y2="504.96" stroke="#1a1a1a" stroke-width="1.25"/>
<line x1="489.51" y1="501.76" x2="489.51" y2="504.96" stroke="#1a1a1a" stroke-width="1.25"/>
<line x1="350.74" y1="477.76" x2="350.74" y2="480.96" stroke="#1a1a1a" stroke-width="1.25"/>
<line x1="375.92" y1="477.76" x2="375.92" y2="480.96" stroke="#1a1a1a" stroke-width="1.25"/>
<line x1="380.35" y1="429.52" x2="380.35" y2="432.72" stroke="#1a1a1a" stroke-width="1.25"/>
<line x1="390.42" y1="429.52" x2="390.42" y2="432.72" stroke="#1a1a1a" stroke-width="1.25"/>
<line x1="432.71" y1="429.52" x2="432.71" y2="432.72" stroke="#1a1a1a" stroke-width="1.25"/>
<text x="297" y="522.35" font-size="9" font-weight="bold" text-anchor="end" fill="#111" textLength="4.2" lengthAdjust="spacingAndGlyphs" stroke="#111" stroke-width="0.28">0</text>
<text x="297" y="499.27" font-size="9" font-weight="bold" text-anchor="end" fill="#111" textLength="8.4" lengthAdjust="spacingAndGlyphs" stroke="#111" stroke-width="0.28">10</text>
<text x="297" y="476.19" font-size="9" font-weight="bold" text-anchor="end" fill="#111" textLength="8.4" lengthAdjust="spacingAndGlyphs" stroke="#111" stroke-width="0.28">20</text>
<text x="297" y="453.11" font-size="9" font-weight="bold" text-anchor="end" fill="#111" textLength="8.4" lengthAdjust="spacingAndGlyphs" stroke="#111" stroke-width="0.28">30</text>
<text x="297" y="430.03" font-size="9" font-weight="bold" text-anchor="end" fill="#111" textLength="8.4" lengthAdjust="spacingAndGlyphs" stroke="#111" stroke-width="0.28">40</text>
<text x="297" y="406.95" font-size="9" font-weight="bold" text-anchor="end" fill="#111" textLength="8.4" lengthAdjust="spacingAndGlyphs" stroke="#111" stroke-width="0.28">50</text>
<text x="301.4" y="532.15" font-size="9" font-weight="bold" text-anchor="middle" fill="#111" textLength="4.2" lengthAdjust="spacingAndGlyphs" stroke="#111" stroke-width="0.28">0</text>
<text x="321.54" y="532.15" font-size="9" font-weight="bold" text-anchor="middle" fill="#111" textLength="4.2" lengthAdjust="spacingAndGlyphs" stroke="#111" stroke-width="0.28">1</text>
<text x="341.68" y="532.15" font-size="9" font-weight="bold" text-anchor="middle" fill="#111" textLength="4.2" lengthAdjust="spacingAndGlyphs" stroke="#111" stroke-width="0.28">2</text>
<text x="361.82" y="532.15" font-size="9" font-weight="bold" text-anchor="middle" fill="#111" textLength="4.2" lengthAdjust="spacingAndGlyphs" stroke="#111" stroke-width="0.28">3</text>
<text x="381.96" y="532.15" font-size="9" font-weight="bold" text-anchor="middle" fill="#111" textLength="4.2" lengthAdjust="spacingAndGlyphs" stroke="#111" stroke-width="0.28">4</text>
<text x="402.1" y="532.15" font-size="9" font-weight="bold" text-anchor="middle" fill="#111" textLength="4.2" lengthAdjust="spacingAndGlyphs" stroke="#111" stroke-width="0.28">5</text>
<text x="422.24" y="532.15" font-size="9" font-weight="bold" text-anchor="middle" fill="#111" textLength="4.2" lengthAdjust="spacingAndGlyphs" stroke="#111" stroke-width="0.28">6</text>
<text x="442.38" y="532.15" font-size="9" font-weight="bold" text-anchor="middle" fill="#111" textLength="4.2" lengthAdjust="spacingAndGlyphs" stroke="#111" stroke-width="0.28">7</text>
<text x="462.52" y="532.15" font-size="9" font-weight="bold" text-anchor="middle" fill="#111" textLength="4.2" lengthAdjust="spacingAndGlyphs" stroke="#111" stroke-width="0.28">8</text>
<text x="482.66" y="532.15" font-size="9" font-weight="bold" text-anchor="middle" fill="#111" textLength="4.2" lengthAdjust="spacingAndGlyphs" stroke="#111" stroke-width="0.28">9</text>
<text x="502.8" y="532.15" font-size="9" font-weight="bold" text-anchor="middle" fill="#111" textLength="8.4" lengthAdjust="spacingAndGlyphs" stroke="#111" stroke-width="0.28">10</text>
<text x="370.45" y="544.06" font-size="9.6" font-weight="bold" fill="#111" textLength="64.21" lengthAdjust="spacingAndGlyphs" stroke="#111" stroke-width="0.28">Years from CR</text>
<text transform="translate(282.6,497.67) rotate(-90)" x="0" y="0" font-size="9.8" font-weight="bold" fill="#111" textLength="72.87" lengthAdjust="spacingAndGlyphs" stroke="#111" stroke-width="0.28">Percent Relapse</text>
<text x="279.47" y="559" font-size="9.7" font-weight="bold" fill="#111" textLength="155.3" lengthAdjust="spacingAndGlyphs" stroke="#111" stroke-width="0.28">C: Cumulative Incidence of Relapse</text>
<text x="312.99" y="414.8" font-size="10" font-weight="bold" fill="#111" textLength="34.21" lengthAdjust="spacingAndGlyphs" stroke="#111" stroke-width="0.28">p= 0.27</text>
<line x1="454" y1="405" x2="462.5" y2="405" stroke="#3a3a70" stroke-width="1.1"/>
<path d="M456.95 405.3L458.25 402.8L459.55 405.3Z" fill="#222"/>
<text x="466.64" y="407.77" font-size="6.5" font-weight="normal" fill="#2a2a2a" textLength="23.08" lengthAdjust="spacingAndGlyphs">0 points</text>
<line x1="454" y1="414" x2="462.5" y2="414" stroke="#a89070" stroke-width="1.1"/>
<path d="M456.95 414.3L458.25 411.8L459.55 414.3Z" fill="#222"/>
<text x="466.41" y="416.77" font-size="6.5" font-weight="normal" fill="#2a2a2a" textLength="19.78" lengthAdjust="spacingAndGlyphs">1 point</text>
<line x1="454" y1="423" x2="462.5" y2="423" stroke="#3d6548" stroke-width="1.1"/>
<path d="M456.95 423.3L458.25 420.8L459.55 423.3Z" fill="#222"/>
<text x="466.57" y="425.77" font-size="6.5" font-weight="normal" fill="#2a2a2a" textLength="23.08" lengthAdjust="spacingAndGlyphs">2 points</text>
<line x1="454" y1="431.9" x2="462.5" y2="431.9" stroke="#98404e" stroke-width="1.1"/>
<path d="M456.95 432.2L458.25 429.7L459.55 432.2Z" fill="#222"/>
<text x="466.64" y="434.67" font-size="6.5" font-weight="normal" fill="#2a2a2a" textLength="23.08" lengthAdjust="spacingAndGlyphs">3 points</text>
</svg></body></html>
